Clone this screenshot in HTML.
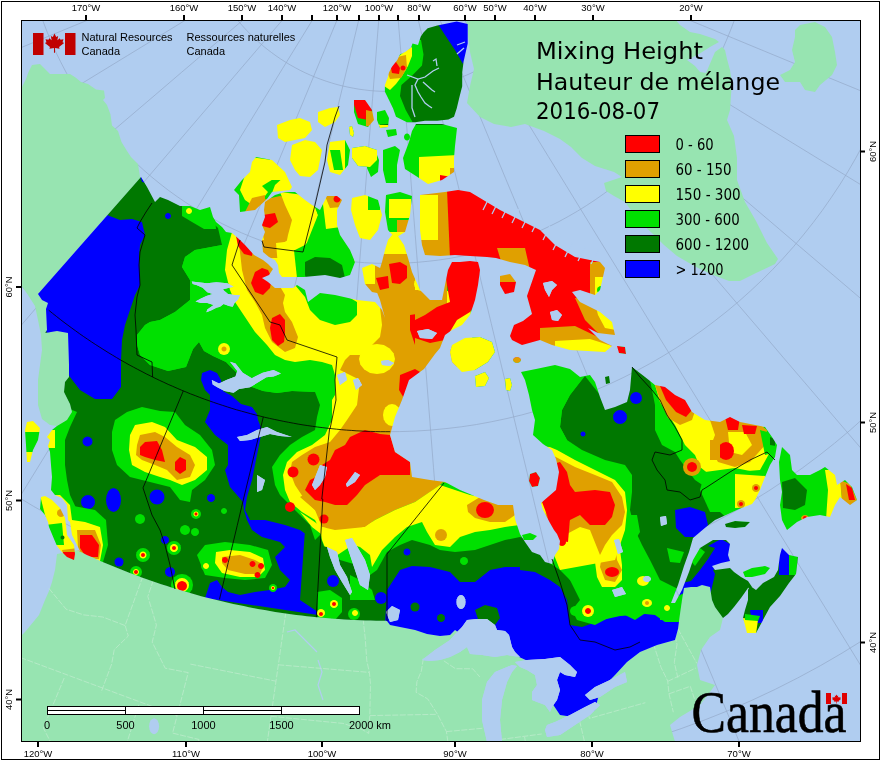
<!DOCTYPE html><html><head><meta charset="utf-8"><style>html,body{margin:0;padding:0;background:#fff}svg{display:block}</style></head><body>
<svg width="880" height="760" viewBox="0 0 880 760">
<defs><clipPath id="frame"><rect x="21" y="20" width="839" height="721"/></clipPath>
<clipPath id="can">
<path d="M141.0,177.0 L147.0,187.0 L155.0,202.0 L160.0,197.0 L168.0,200.0 L180.0,206.0 L190.0,206.0 L200.0,210.0 L210.0,207.0 L213.0,217.0 L216.0,222.0 L222.0,227.0 L226.0,232.0 L232.0,233.0 L240.0,240.0 L245.0,245.0 L254.0,255.0 L263.0,260.0 L268.0,264.0 L273.0,269.0 L269.0,275.0 L262.0,278.0 L268.0,282.0 L275.0,288.0 L282.0,288.0 L293.0,288.0 L297.0,285.0 L305.0,290.0 L308.0,302.0 L320.0,293.0 L335.0,295.0 L357.0,300.0 L375.0,302.0 L382.0,310.0 L385.0,318.0 L380.0,300.0 L376.0,290.0 L378.0,275.0 L382.0,262.0 L385.0,250.0 L388.0,240.0 L392.0,235.0 L398.0,236.0 L404.0,245.0 L408.0,258.0 L412.0,272.0 L420.0,290.0 L430.0,300.0 L442.0,300.0 L445.0,285.0 L448.0,270.0 L452.0,262.0 L460.0,262.0 L470.0,261.0 L478.0,262.0 L480.0,270.0 L478.0,285.0 L475.0,300.0 L470.0,315.0 L462.0,325.0 L452.0,330.0 L445.0,335.0 L440.0,348.0 L435.0,354.0 L424.0,369.0 L409.0,380.0 L402.0,400.0 L395.0,417.0 L390.0,435.0 L395.0,452.0 L410.0,462.0 L412.0,477.0 L430.0,480.0 L445.0,482.0 L460.0,490.0 L484.0,500.0 L498.0,505.0 L513.0,505.0 L515.0,519.0 L520.0,534.0 L525.0,542.0 L532.0,552.0 L540.0,555.0 L545.0,562.0 L552.0,564.0 L555.0,555.0 L559.0,549.0 L560.0,541.0 L557.0,534.0 L554.0,530.0 L550.0,523.0 L543.0,510.0 L541.0,503.0 L556.0,490.0 L559.0,472.0 L556.0,459.0 L552.0,450.0 L543.0,444.0 L533.0,435.0 L535.0,420.0 L532.0,410.0 L529.0,395.0 L525.0,380.0 L521.0,372.0 L536.0,369.0 L555.0,365.0 L570.0,369.0 L580.0,377.0 L590.0,375.0 L595.0,382.0 L600.0,397.0 L605.0,410.0 L615.0,407.0 L627.0,402.0 L630.0,390.0 L632.0,367.0 L645.0,377.0 L655.0,385.0 L665.0,387.0 L675.0,395.0 L685.0,400.0 L692.0,412.0 L705.0,420.0 L720.0,422.0 L730.0,417.0 L740.0,422.0 L755.0,425.0 L765.0,427.0 L772.0,437.0 L777.0,445.0 L775.0,457.0 L770.0,465.0 L765.0,477.0 L760.0,490.0 L755.0,500.0 L752.0,504.0 L739.0,509.0 L726.0,515.0 L715.0,520.0 L706.0,527.0 L693.0,538.0 L689.0,552.0 L684.0,566.0 L678.0,585.0 L671.0,603.0 L675.0,603.0 L682.0,590.0 L689.0,572.0 L693.0,560.0 L700.0,548.0 L713.0,540.0 L726.0,540.0 L730.0,544.0 L728.0,555.0 L730.0,561.0 L721.0,563.0 L712.0,566.0 L715.0,570.0 L730.0,568.0 L734.0,572.0 L741.0,577.0 L748.0,581.0 L752.0,587.0 L748.0,588.0 L741.0,598.0 L734.0,607.0 L728.0,614.0 L723.0,618.0 L723.0,618.0 L715.0,607.0 L712.0,600.0 L710.0,587.0 L702.0,585.0 L697.0,587.0 L691.0,587.0 L684.0,588.0 L682.0,600.0 L680.0,614.0 L678.0,629.0 L675.0,640.0 L657.0,645.0 L640.0,652.0 L627.0,662.0 L615.0,675.0 L600.0,690.0 L595.0,710.0 L580.0,718.0 L560.0,715.0 L550.0,700.0 L540.0,680.0 L530.0,662.0 L517.0,656.0 L510.0,650.0 L490.0,645.0 L470.0,640.0 L455.0,630.0 L450.0,635.0 L440.0,636.0 L427.0,634.0 L415.0,630.0 L400.0,627.0 L390.0,625.0 L386.8,620.8 L381.5,620.8 L376.1,620.7 L370.8,620.6 L365.5,620.4 L360.1,620.2 L354.8,620.0 L349.5,619.7 L344.1,619.4 L338.8,619.1 L333.5,618.7 L328.2,618.3 L322.8,617.8 L317.5,617.3 L312.2,616.8 L306.9,616.2 L301.6,615.6 L296.3,614.9 L291.0,614.2 L285.8,613.5 L280.5,612.7 L275.2,611.9 L269.9,611.0 L264.7,610.1 L259.4,609.2 L254.2,608.2 L248.9,607.2 L243.7,606.1 L238.5,605.1 L233.3,603.9 L228.0,602.8 L222.9,601.6 L217.7,600.3 L212.5,599.0 L207.3,597.7 L202.1,596.4 L197.0,595.0 L191.9,593.5 L186.7,592.1 L181.6,590.6 L176.5,589.0 L171.4,587.4 L166.3,585.8 L161.2,584.2 L156.2,582.5 L151.1,580.7 L146.1,579.0 L141.1,577.2 L136.1,575.3 L131.1,573.4 L126.1,571.5 L121.1,569.6 L116.2,567.6 L111.3,565.5 L106.3,563.5 L101.4,561.4 L96.5,559.2 L91.7,557.1 L86.8,554.9 L82.0,552.6 L77.1,550.3 L80.0,551.0 L77.0,545.0 L72.0,535.0 L70.0,522.0 L68.0,520.0 L67.0,505.0 L62.0,498.0 L55.0,495.0 L51.0,490.0 L52.0,477.0 L51.0,465.0 L50.0,452.0 L48.0,446.0 L50.0,440.0 L47.0,437.0 L52.0,430.0 L57.0,426.0 L67.0,420.0 L72.0,412.0 L70.0,404.0 L64.0,392.0 L65.0,382.0 L69.0,377.0 L69.0,365.0 L68.0,333.0 L57.0,331.0 L45.0,333.0 L47.0,330.0 L46.0,309.0 L48.0,303.0 L42.0,300.0 L38.0,294.0Z"/>
<path d="M41.0,497.0 L40.0,509.0 L45.0,515.0 L48.0,522.0 L49.0,527.0 L54.0,539.0 L57.0,546.0 L61.0,551.0 L67.0,557.0 L74.0,560.0 L75.0,554.0 L74.0,545.0 L67.0,535.0 L66.0,525.0 L65.0,518.0 L60.0,508.0 L52.0,500.0 L45.0,496.0Z"/>
<path d="M27.0,422.0 L33.0,421.0 L40.0,428.0 L38.0,440.0 L33.0,450.0 L30.0,462.0 L27.0,462.0 L26.0,445.0 L25.0,430.0Z"/>
<path d="M256.0,157.0 L272.0,160.0 L285.0,172.0 L292.0,187.0 L290.0,190.0 L272.0,192.0 L267.0,199.0 L255.0,210.0 L240.0,212.0 L239.0,195.0 L234.0,190.0 L242.0,180.0 L250.0,172.0 L252.0,162.0Z"/>
<path d="M265.0,202.0 L275.0,195.0 L285.0,192.0 L295.0,192.0 L305.0,200.0 L312.0,205.0 L320.0,210.0 L325.0,200.0 L327.0,196.0 L337.0,196.0 L342.0,200.0 L337.0,210.0 L337.0,225.0 L340.0,235.0 L350.0,250.0 L355.0,262.0 L350.0,275.0 L340.0,278.0 L325.0,275.0 L304.0,277.0 L290.0,277.0 L282.0,277.0 L279.0,273.0 L278.0,265.0 L275.0,260.0 L269.0,257.0 L263.0,252.0 L262.0,240.0 L265.0,232.0 L262.0,225.0 L265.0,217.0 L264.0,210.0Z"/>
<path d="M277.0,125.0 L290.0,120.0 L300.0,118.0 L310.0,122.0 L312.0,130.0 L305.0,138.0 L295.0,140.0 L285.0,142.0 L278.0,138.0Z"/>
<path d="M292.0,145.0 L305.0,140.0 L315.0,142.0 L322.0,150.0 L320.0,160.0 L318.0,170.0 L310.0,177.0 L300.0,176.0 L295.0,170.0 L290.0,160.0Z"/>
<path d="M318.0,112.0 L330.0,108.0 L338.0,107.0 L340.0,115.0 L335.0,122.0 L325.0,127.0 L318.0,122.0Z"/>
<path d="M354.0,100.0 L365.0,100.0 L372.0,110.0 L374.0,120.0 L368.0,127.0 L358.0,124.0 L354.0,112.0Z"/>
<path d="M330.0,142.0 L345.0,140.0 L350.0,150.0 L348.0,165.0 L340.0,175.0 L330.0,172.0 L327.0,160.0Z"/>
<path d="M367.0,152.0 L375.0,150.0 L379.0,160.0 L378.0,172.0 L371.0,177.0 L367.0,168.0Z"/>
<path d="M352.0,148.0 L365.0,146.0 L377.0,150.0 L377.0,160.0 L370.0,167.0 L358.0,166.0 L352.0,158.0Z"/>
<path d="M383.0,150.0 L395.0,146.0 L400.0,150.0 L397.0,165.0 L397.0,183.0 L386.0,183.0 L383.0,170.0Z"/>
<path d="M377.0,112.0 L385.0,110.0 L389.0,118.0 L388.0,127.0 L380.0,128.0 L377.0,120.0Z"/>
<path d="M386.0,130.0 L396.0,129.0 L397.0,135.0 L388.0,137.0Z"/>
<path d="M410.0,137.0 L409.8,138.3 L409.1,139.5 L408.1,140.2 L407.0,140.5 L405.9,140.2 L404.9,139.5 L404.2,138.3 L404.0,137.0 L404.2,135.7 L404.9,134.5 L405.9,133.8 L407.0,133.5 L408.1,133.8 L409.1,134.5 L409.8,135.7Z"/>
<path d="M349.0,127.0 L352.0,126.0 L354.0,133.0 L353.0,137.0 L350.0,135.0Z"/>
<path d="M416.0,124.0 L442.0,124.0 L457.0,128.0 L455.0,146.0 L454.0,158.0 L454.0,172.0 L442.0,180.0 L428.0,184.0 L416.0,176.0 L405.0,169.0 L403.0,158.0 L409.0,142.0 L412.0,131.0Z"/>
<path d="M427.7,28.3 L437.3,25.5 L456.7,21.4 L467.7,24.1 L467.7,43.5 L463.6,61.4 L462.2,72.5 L462.2,86.3 L459.4,97.3 L456.7,108.4 L454.0,116.7 L448.4,119.4 L437.3,120.8 L425.0,120.8 L415.2,122.2 L407.0,122.2 L396.0,116.7 L393.1,108.4 L389.0,100.1 L384.9,91.8 L384.9,84.9 L387.6,78.0 L389.0,72.5 L391.8,67.0 L397.3,60.1 L400.0,54.5 L405.6,51.8 L411.1,47.6 L412.5,43.5 L418.0,44.9 L420.8,36.6 L423.5,32.4Z"/>
<path d="M352.0,198.0 L365.0,195.0 L378.0,200.0 L382.0,215.0 L378.0,230.0 L370.0,240.0 L360.0,238.0 L355.0,225.0 L351.0,210.0Z"/>
<path d="M386.0,195.0 L400.0,192.0 L412.0,196.0 L410.0,215.0 L405.0,232.0 L395.0,238.0 L388.0,230.0 L385.0,212.0Z"/>
<path d="M420.0,195.0 L445.0,192.0 L458.0,190.0 L470.0,192.0 L480.0,198.0 L500.0,210.0 L520.0,220.0 L540.0,230.0 L555.0,245.0 L575.0,257.0 L600.0,262.0 L605.0,268.0 L600.0,290.0 L595.0,295.0 L580.0,290.0 L572.0,292.0 L580.0,302.0 L600.0,312.0 L612.0,322.0 L615.0,335.0 L598.0,333.0 L588.0,328.0 L600.0,340.0 L612.0,346.0 L605.0,352.0 L570.0,350.0 L552.0,345.0 L540.0,340.0 L522.0,345.0 L512.0,340.0 L510.0,336.0 L514.0,325.0 L523.0,321.0 L532.0,314.0 L527.0,296.0 L536.0,270.0 L525.0,265.0 L510.0,262.0 L496.0,258.0 L487.0,257.0 L470.0,256.0 L455.0,255.0 L440.0,256.0 L425.0,255.0 L422.0,245.0 L420.0,230.0 L420.0,210.0Z"/>
<path d="M452.0,345.0 L465.0,338.0 L480.0,337.0 L492.0,342.0 L495.0,352.0 L488.0,362.0 L475.0,370.0 L462.0,372.0 L452.0,362.0 L450.0,352.0Z"/>
<path d="M475.0,376.0 L485.0,372.0 L489.0,378.0 L485.0,386.0 L476.0,387.0Z"/>
<path d="M505.0,379.0 L510.0,378.0 L512.0,385.0 L510.0,391.0 L506.0,390.0Z"/>
<path d="M500.0,276.0 L510.0,274.0 L516.0,282.0 L514.0,292.0 L505.0,294.0 L500.0,285.0Z"/>
<path d="M362.0,268.0 L372.0,264.0 L380.0,268.0 L388.0,276.0 L389.0,288.0 L382.0,294.0 L372.0,292.0 L365.0,284.0Z"/>
<path d="M521.0,360.0 L520.7,361.1 L519.8,362.1 L518.5,362.8 L517.0,363.0 L515.5,362.8 L514.2,362.1 L513.3,361.1 L513.0,360.0 L513.3,358.9 L514.2,357.9 L515.5,357.2 L517.0,357.0 L518.5,357.2 L519.8,357.9 L520.7,358.9Z"/>
<path d="M617.0,346.0 L625.0,347.0 L626.0,354.0 L619.0,353.0Z"/>
<path d="M605.0,377.0 L609.0,376.0 L610.0,383.0 L606.0,384.0Z"/>
<path d="M522.0,535.0 L530.0,533.0 L537.0,536.0 L533.0,540.0 L524.0,540.0Z"/>
<path d="M530.0,474.0 L536.0,472.0 L540.0,478.0 L538.0,486.0 L532.0,487.0 L529.0,481.0Z"/>
<path d="M782.0,447.0 L790.0,455.0 L792.0,470.0 L797.0,475.0 L810.0,475.0 L820.0,470.0 L825.0,467.0 L835.0,475.0 L837.0,485.0 L845.0,480.0 L852.0,487.0 L857.0,500.0 L850.0,505.0 L840.0,497.0 L835.0,505.0 L830.0,517.0 L820.0,515.0 L807.0,517.0 L797.0,522.0 L787.0,530.0 L782.0,520.0 L780.0,505.0 L782.0,492.0 L780.0,480.0 L779.0,462.0Z"/>
<path d="M725.0,524.0 L735.0,521.0 L750.0,522.0 L745.0,527.0 L735.0,528.0 L726.0,527.0Z"/>
<path d="M743.0,572.0 L752.0,568.0 L765.0,566.0 L770.0,568.0 L765.0,574.0 L752.0,577.0 L745.0,577.0Z"/>
<path d="M745.0,625.0 L747.0,633.0 L756.0,633.0 L763.0,620.0 L770.0,607.0 L780.0,596.0 L789.0,583.0 L796.0,574.0 L798.0,557.0 L789.0,555.0 L782.0,548.0 L780.0,555.0 L778.0,570.0 L774.0,577.0 L763.0,583.0 L756.0,590.0 L750.0,586.0 L748.0,590.0 L748.0,600.0 L745.0,610.0 L743.0,618.0Z"/>
</clipPath>
<mask id="wat" maskUnits="userSpaceOnUse" x="0" y="0" width="880" height="760"><rect x="0" y="0" width="880" height="760" fill="#fff"/>
<path d="M543.0,283.0 L552.0,281.0 L557.0,285.0 L552.0,290.0 L549.0,297.0 L545.0,290.0Z" fill="#000"/>
<path d="M550.0,312.0 L557.0,310.0 L562.0,315.0 L558.0,321.0 L552.0,320.0Z" fill="#000"/>
<path d="M381.0,361.0 L388.0,360.0 L394.0,363.0 L390.0,366.0 L382.0,365.0Z" fill="#000"/>
<path d="M337.0,375.0 L345.0,372.0 L347.0,380.0 L340.0,385.0Z" fill="#000"/>
<path d="M353.0,380.0 L358.0,378.0 L362.0,385.0 L356.0,390.0Z" fill="#000"/>
<path d="M327.0,547.0 L337.0,552.0 L340.0,565.0 L347.0,577.0 L352.0,592.0 L350.0,595.0 L342.0,582.0 L335.0,570.0 L330.0,557.0Z" fill="#000"/>
<path d="M386.0,612.0 L392.0,606.0 L400.0,610.0 L398.0,620.0 L390.0,622.0Z" fill="#000"/>
<path d="M465.5,602.0 L465.2,604.7 L464.2,606.9 L462.7,608.5 L461.0,609.0 L459.3,608.5 L457.8,606.9 L456.8,604.7 L456.5,602.0 L456.8,599.3 L457.8,597.1 L459.3,595.5 L461.0,595.0 L462.7,595.5 L464.2,597.1 L465.2,599.3Z" fill="#000"/>
<path d="M614.0,540.0 L619.0,539.0 L623.0,552.0 L618.0,554.0Z" fill="#000"/>
<path d="M612.0,590.0 L622.0,587.0 L626.0,594.0 L615.0,597.0Z" fill="#000"/>
<path d="M660.0,517.0 L666.0,516.0 L667.0,524.0 L661.0,526.0Z" fill="#000"/>
<path d="M651.0,579.0 L650.7,580.1 L649.8,581.1 L648.5,581.8 L647.0,582.0 L645.5,581.8 L644.2,581.1 L643.3,580.1 L643.0,579.0 L643.3,577.9 L644.2,576.9 L645.5,576.2 L647.0,576.0 L648.5,576.2 L649.8,576.9 L650.7,577.9Z" fill="#000"/>
<path d="M320.0,465.0 L327.0,467.0 L325.0,477.0 L320.0,485.0 L315.0,490.0 L312.0,485.0 L316.0,475.0Z" fill="#000"/>
<path d="M355.0,472.0 L360.0,475.0 L355.0,482.0 L347.0,487.0 L346.0,484.0Z" fill="#000"/>
<path d="M257.0,475.0 L265.0,480.0 L262.0,490.0 L257.0,492.0Z" fill="#000"/>
<path d="M417.0,331.0 L428.0,329.0 L437.0,333.0 L432.0,339.0 L420.0,338.0Z" fill="#000"/>
<path d="M191.8,281.4 L198.0,282.3 L207.0,283.2 L216.4,282.3 L227.3,283.2 L233.6,286.8 L229.0,287.7 L222.7,289.5 L228.0,294.0 L234.5,295.0 L240.0,295.0 L238.0,299.5 L234.5,303.0 L232.7,306.8 L229.0,306.0 L223.6,304.0 L220.0,306.8 L216.4,307.7 L211.0,310.5 L206.4,312.3 L207.3,309.5 L213.6,305.0 L207.3,303.0 L201.0,303.0 L195.5,301.4 L201.0,298.6 L206.4,296.0 L212.7,294.0 L207.3,292.3 L202.7,287.7 L196.4,285.0 L192.7,284.0Z" fill="#000"/>
<path d="M211.8,380.0 L219.0,383.6 L226.4,380.0 L235.5,376.4 L237.3,371.0 L230.0,361.8 L235.5,363.6 L242.7,372.7 L251.8,378.2 L262.7,372.7 L273.6,370.0 L281.0,373.6 L273.6,376.4 L266.4,377.3 L259.0,381.8 L250.0,387.3 L239.0,389.0 L233.6,392.7 L224.5,391.0 L217.3,387.3 L212.7,384.5Z" fill="#000"/>
<path d="M237.0,437.0 L247.0,435.0 L257.0,430.0 L267.0,427.0 L277.0,432.0 L292.0,437.0 L280.0,436.0 L270.0,434.0 L260.0,437.0 L250.0,440.0 L240.0,441.0Z" fill="#000"/>
<path d="M345.0,540.0 L352.0,538.0 L358.0,548.0 L365.0,560.0 L370.0,575.0 L368.0,590.0 L360.0,585.0 L355.0,570.0 L350.0,555.0Z" fill="#000"/>
<path d="M422.0,660.0 L435.0,650.0 L450.0,640.0 L457.0,632.0 L462.0,627.0 L467.0,620.0 L477.0,619.0 L487.0,619.0 L495.0,625.0 L497.0,630.0 L505.0,631.0 L509.0,635.0 L512.0,647.0 L515.0,652.0 L520.0,657.0 L507.0,655.0 L495.0,657.0 L482.0,655.0 L470.0,654.0 L467.0,647.0 L460.0,652.0 L450.0,657.0 L440.0,660.0 L430.0,661.0Z" fill="#000"/>
<path d="M512.0,665.0 L495.0,672.0 L487.0,682.0 L482.0,700.0 L482.0,720.0 L487.0,742.0 L502.0,742.0 L500.0,720.0 L502.0,700.0 L507.0,682.0 L512.0,672.0 L517.0,666.0Z" fill="#000"/>
<path d="M515.0,662.0 L527.0,660.0 L545.0,659.0 L560.0,657.0 L570.0,665.0 L577.0,672.0 L575.0,677.0 L565.0,675.0 L560.0,672.0 L557.0,680.0 L560.0,690.0 L557.0,700.0 L552.0,707.0 L550.0,712.0 L545.0,705.0 L537.0,702.0 L532.0,700.0 L532.0,692.0 L537.0,685.0 L535.0,675.0 L527.0,670.0 L520.0,667.0Z" fill="#000"/>
<path d="M547.0,725.0 L555.0,722.0 L570.0,715.0 L585.0,707.0 L595.0,702.0 L600.0,705.0 L590.0,715.0 L575.0,725.0 L560.0,735.0 L547.0,737.0 L545.0,730.0Z" fill="#000"/>
<path d="M585.0,695.0 L595.0,687.0 L610.0,680.0 L625.0,672.0 L627.0,682.0 L615.0,687.0 L600.0,697.0 L590.0,700.0Z" fill="#000"/>
</mask></defs>
<rect x="0" y="0" width="880" height="760" fill="#fff"/>
<g clip-path="url(#frame)">
<rect x="21" y="20" width="839" height="721" fill="#b0cdf0"/>
<path d="M-652.2,144.2 L-615.0,135.3 L-578.4,126.6 L-542.3,118.0 L-506.6,109.5 L-471.5,101.1 L-436.7,92.8 L-402.3,84.6 L-368.2,76.5 L-334.5,68.4 L-301.0,60.5 L-267.8,52.5 L-234.8,44.7 L-202.0,36.8 L-169.3,29.0 L-136.7,21.3 L-104.2,13.5 L-71.8,5.8 L-39.4,-1.9 L-6.9,-9.7 L25.6,-17.4 L58.2,-25.2 L91.0,-33.1 L124.1,-40.9 L157.5,-48.9 L191.2,-57.0 L225.6,-65.1 L260.6,-73.5 L296.7,-82.1 L334.4,-91.1 L375.7,-101.0 M-600.5,304.1 L-565.1,289.5 L-530.3,275.2 L-496.0,261.0 L-462.2,247.1 L-428.7,233.3 L-395.7,219.6 L-363.0,206.1 L-330.6,192.8 L-298.6,179.5 L-266.8,166.4 L-235.2,153.4 L-203.8,140.4 L-172.6,127.6 L-141.6,114.7 L-110.6,102.0 L-79.8,89.2 L-48.9,76.5 L-18.1,63.8 L12.7,51.1 L43.6,38.3 L74.6,25.5 L105.8,12.7 L137.2,-0.3 L168.9,-13.4 L201.1,-26.6 L233.7,-40.1 L267.0,-53.8 L301.3,-68.0 L337.1,-82.8 L376.4,-99.0 M-524.4,454.0 L-491.7,434.0 L-459.6,414.4 L-427.9,395.0 L-396.7,375.9 L-365.8,357.1 L-335.3,338.4 L-305.2,320.0 L-275.3,301.7 L-245.7,283.6 L-216.3,265.7 L-187.2,247.9 L-158.2,230.2 L-129.4,212.6 L-100.8,195.1 L-72.2,177.6 L-43.7,160.2 L-15.3,142.8 L13.2,125.4 L41.6,108.0 L70.2,90.6 L98.8,73.1 L127.6,55.5 L156.6,37.8 L185.8,19.9 L215.5,1.8 L245.6,-16.6 L276.3,-35.4 L308.0,-54.8 L341.1,-75.0 L377.3,-97.2 M-425.7,590.0 L-396.6,565.2 L-368.0,540.8 L-339.7,516.7 L-311.8,493.0 L-284.3,469.5 L-257.1,446.3 L-230.2,423.4 L-203.6,400.7 L-177.2,378.2 L-151.0,355.9 L-125.0,333.7 L-99.1,311.7 L-73.5,289.8 L-47.9,268.0 L-22.4,246.3 L3.0,224.6 L28.4,203.0 L53.7,181.4 L79.1,159.7 L104.6,138.0 L130.1,116.3 L155.8,94.4 L181.6,72.3 L207.7,50.1 L234.2,27.5 L261.0,4.7 L288.5,-18.7 L316.7,-42.8 L346.2,-67.9 L378.5,-95.5 M-307.0,709.0 L-282.1,679.9 L-257.6,651.3 L-233.5,623.1 L-209.7,595.3 L-186.2,567.8 L-163.0,540.6 L-140.0,513.8 L-117.2,487.2 L-94.7,460.8 L-72.3,434.7 L-50.1,408.7 L-28.0,382.9 L-6.1,357.3 L15.7,331.7 L37.5,306.3 L59.2,280.9 L80.9,255.6 L102.6,230.3 L124.2,204.9 L146.0,179.5 L167.8,154.0 L189.7,128.4 L211.8,102.6 L234.1,76.5 L256.7,50.1 L279.6,23.3 L303.0,-4.1 L327.2,-32.3 L352.4,-61.8 L380.0,-94.0 M-171.1,807.9 L-151.1,775.3 L-131.4,743.2 L-112.0,711.6 L-92.8,680.3 L-73.9,649.5 L-55.2,619.1 L-36.7,588.9 L-18.4,559.1 L-0.2,529.5 L17.7,500.2 L35.6,471.1 L53.4,442.1 L71.0,413.4 L88.6,384.7 L106.1,356.2 L123.6,327.8 L141.0,299.3 L158.4,270.9 L175.9,242.5 L193.4,214.0 L210.9,185.4 L228.6,156.6 L246.3,127.7 L264.3,98.4 L282.4,68.8 L300.9,38.8 L319.7,8.0 L339.1,-23.6 L359.4,-56.6 L381.6,-92.8 M-21.4,884.3 L-6.7,848.9 L7.7,814.2 L21.9,779.9 L36.0,746.0 L49.8,712.6 L63.5,679.6 L77.1,647.0 L90.5,614.6 L103.8,582.6 L116.9,550.8 L130.0,519.2 L143.0,487.9 L156.0,456.7 L168.8,425.7 L181.7,394.8 L194.4,363.9 L207.2,333.1 L220.0,302.3 L232.8,271.5 L245.6,240.6 L258.4,209.6 L271.4,178.5 L284.4,147.1 L297.5,115.4 L310.8,83.3 L324.3,50.7 L338.1,17.4 L352.3,-16.8 L367.2,-52.7 L383.5,-91.9 M138.5,936.3 L147.4,899.1 L156.2,862.5 L164.9,826.4 L173.4,790.8 L181.9,755.6 L190.2,720.8 L198.5,686.5 L206.7,652.4 L214.8,618.7 L222.8,585.2 L230.8,552.0 L238.8,519.0 L246.6,486.2 L254.5,453.5 L262.3,421.0 L270.1,388.5 L277.9,356.1 L285.7,323.7 L293.5,291.3 L301.3,258.8 L309.2,226.1 L317.0,193.3 L325.0,160.3 L333.0,126.9 L341.1,93.2 L349.4,58.9 L357.8,23.8 L366.4,-12.2 L375.5,-50.0 L385.4,-91.2 M304.5,962.6 L307.5,924.5 L310.4,886.9 L313.3,849.9 L316.2,813.4 L319.1,777.4 L321.9,741.7 L324.6,706.5 L327.4,671.6 L330.1,637.0 L332.8,602.7 L335.5,568.6 L338.2,534.8 L340.8,501.1 L343.5,467.7 L346.1,434.3 L348.7,401.0 L351.3,367.8 L353.9,334.5 L356.6,301.3 L359.2,267.9 L361.8,234.5 L364.5,200.9 L367.1,167.0 L369.8,132.8 L372.6,98.2 L375.3,63.0 L378.2,27.1 L381.1,-9.9 L384.1,-48.6 L387.5,-90.9 M472.5,962.6 L469.5,924.5 L466.6,886.9 L463.7,849.9 L460.8,813.4 L457.9,777.4 L455.1,741.7 L452.4,706.5 L449.6,671.6 L446.9,637.0 L444.2,602.7 L441.5,568.6 L438.8,534.8 L436.2,501.1 L433.5,467.7 L430.9,434.3 L428.3,401.0 L425.7,367.8 L423.1,334.5 L420.4,301.3 L417.8,267.9 L415.2,234.5 L412.5,200.9 L409.9,167.0 L407.2,132.8 L404.4,98.2 L401.7,63.0 L398.8,27.1 L395.9,-9.9 L392.9,-48.6 L389.5,-90.9 M638.5,936.3 L629.6,899.1 L620.8,862.5 L612.1,826.4 L603.6,790.8 L595.1,755.6 L586.8,720.8 L578.5,686.5 L570.3,652.4 L562.2,618.7 L554.2,585.2 L546.2,552.0 L538.2,519.0 L530.4,486.2 L522.5,453.5 L514.7,421.0 L506.9,388.5 L499.1,356.1 L491.3,323.7 L483.5,291.3 L475.7,258.8 L467.8,226.1 L460.0,193.3 L452.0,160.3 L444.0,126.9 L435.9,93.2 L427.6,58.9 L419.2,23.8 L410.6,-12.2 L401.5,-50.0 L391.6,-91.2 M798.4,884.3 L783.7,848.9 L769.3,814.2 L755.1,779.9 L741.0,746.0 L727.2,712.6 L713.5,679.6 L699.9,647.0 L686.5,614.6 L673.2,582.6 L660.1,550.8 L647.0,519.2 L634.0,487.9 L621.0,456.7 L608.2,425.7 L595.3,394.8 L582.6,363.9 L569.8,333.1 L557.0,302.3 L544.2,271.5 L531.4,240.6 L518.6,209.6 L505.6,178.5 L492.6,147.1 L479.5,115.4 L466.2,83.3 L452.7,50.7 L438.9,17.4 L424.7,-16.8 L409.8,-52.7 L393.5,-91.9 M948.1,807.9 L928.1,775.3 L908.4,743.2 L889.0,711.6 L869.8,680.3 L850.9,649.5 L832.2,619.1 L813.7,588.9 L795.4,559.1 L777.2,529.5 L759.3,500.2 L741.4,471.1 L723.6,442.1 L706.0,413.4 L688.4,384.7 L670.9,356.2 L653.4,327.8 L636.0,299.3 L618.6,270.9 L601.1,242.5 L583.6,214.0 L566.1,185.4 L548.4,156.6 L530.7,127.7 L512.7,98.4 L494.6,68.8 L476.1,38.8 L457.3,8.0 L437.9,-23.6 L417.6,-56.6 L395.4,-92.8 M1084.0,709.0 L1059.1,679.9 L1034.6,651.3 L1010.5,623.1 L986.7,595.3 L963.2,567.8 L940.0,540.6 L917.0,513.8 L894.2,487.2 L871.7,460.8 L849.3,434.7 L827.1,408.7 L805.0,382.9 L783.1,357.3 L761.3,331.7 L739.5,306.3 L717.8,280.9 L696.1,255.6 L674.4,230.3 L652.8,204.9 L631.0,179.5 L609.2,154.0 L587.3,128.4 L565.2,102.6 L542.9,76.5 L520.3,50.1 L497.4,23.3 L474.0,-4.1 L449.8,-32.3 L424.6,-61.8 L397.0,-94.0 M1202.7,590.0 L1173.6,565.2 L1145.0,540.8 L1116.7,516.7 L1088.8,493.0 L1061.3,469.5 L1034.1,446.3 L1007.2,423.4 L980.6,400.7 L954.2,378.2 L928.0,355.9 L902.0,333.7 L876.1,311.7 L850.5,289.8 L824.9,268.0 L799.4,246.3 L774.0,224.6 L748.6,203.0 L723.3,181.4 L697.9,159.7 L672.4,138.0 L646.9,116.3 L621.2,94.4 L595.4,72.3 L569.3,50.1 L542.8,27.5 L516.0,4.7 L488.5,-18.7 L460.3,-42.8 L430.8,-67.9 L398.5,-95.5 M1301.4,454.0 L1268.7,434.0 L1236.6,414.4 L1204.9,395.0 L1173.7,375.9 L1142.8,357.1 L1112.3,338.4 L1082.2,320.0 L1052.3,301.7 L1022.7,283.6 L993.3,265.7 L964.2,247.9 L935.2,230.2 L906.4,212.6 L877.8,195.1 L849.2,177.6 L820.7,160.2 L792.3,142.8 L763.8,125.4 L735.4,108.0 L706.8,90.6 L678.2,73.1 L649.4,55.5 L620.4,37.8 L591.2,19.9 L561.5,1.8 L531.4,-16.6 L500.7,-35.4 L469.0,-54.8 L435.9,-75.0 L399.7,-97.2 M1377.5,304.1 L1342.1,289.5 L1307.3,275.2 L1273.0,261.0 L1239.2,247.1 L1205.7,233.3 L1172.7,219.6 L1140.0,206.1 L1107.6,192.8 L1075.6,179.5 L1043.8,166.4 L1012.2,153.4 L980.8,140.4 L949.6,127.6 L918.6,114.7 L887.6,102.0 L856.8,89.2 L825.9,76.5 L795.1,63.8 L764.3,51.1 L733.4,38.3 L702.4,25.5 L671.2,12.7 L639.8,-0.3 L608.1,-13.4 L575.9,-26.6 L543.3,-40.1 L510.0,-53.8 L475.7,-68.0 L439.9,-82.8 L400.6,-99.0 M1429.2,144.2 L1392.0,135.3 L1355.4,126.6 L1319.3,118.0 L1283.6,109.5 L1248.5,101.1 L1213.7,92.8 L1179.3,84.6 L1145.2,76.5 L1111.5,68.4 L1078.0,60.5 L1044.8,52.5 L1011.8,44.7 L979.0,36.8 L946.3,29.0 L913.7,21.3 L881.2,13.5 L848.8,5.8 L816.4,-1.9 L783.9,-9.7 L751.4,-17.4 L718.8,-25.2 L686.0,-33.1 L652.9,-40.9 L619.5,-48.9 L585.8,-57.0 L551.4,-65.1 L516.4,-73.5 L480.3,-82.1 L442.6,-91.1 L401.3,-101.0 M1455.2,-21.8 L1417.1,-24.8 L1379.6,-27.7 L1342.5,-30.5 L1306.0,-33.3 L1270.0,-36.1 L1234.3,-38.8 L1199.1,-41.6 L1164.2,-44.2 L1129.6,-46.9 L1095.3,-49.6 L1061.2,-52.2 L1027.4,-54.8 L993.7,-57.4 L960.2,-60.0 L926.9,-62.5 L893.6,-65.1 L860.3,-67.7 L827.1,-70.2 L793.8,-72.8 L760.5,-75.3 L727.0,-77.9 L693.4,-80.5 L659.5,-83.1 L625.3,-85.8 L590.7,-88.4 L555.5,-91.1 L519.6,-93.9 L482.6,-96.8 L443.9,-99.7 L401.6,-103.0 M-491.2,-174.9 L-492.9,-149.5 L-493.8,-124.0 L-494.1,-98.6 L-493.5,-73.2 L-492.3,-47.8 L-490.3,-22.4 L-487.6,2.9 L-484.1,28.1 L-480.0,53.2 L-475.1,78.2 L-469.5,103.0 L-463.1,127.7 L-456.1,152.1 L-448.4,176.3 L-439.9,200.4 L-430.8,224.1 L-421.0,247.6 L-410.5,270.8 L-399.4,293.7 L-387.6,316.2 L-375.2,338.4 L-362.1,360.2 L-348.4,381.7 L-334.1,402.7 L-319.2,423.3 L-303.7,443.5 L-287.6,463.2 L-271.0,482.5 L-253.8,501.3 L-236.1,519.5 L-217.9,537.3 L-199.1,554.5 L-179.9,571.2 L-160.2,587.3 L-140.1,602.8 L-119.5,617.7 L-98.5,632.1 L-77.0,645.8 L-55.2,658.9 L-33.1,671.4 L-10.5,683.2 L12.3,694.4 L35.5,704.9 L59.0,714.7 L82.7,723.9 L106.7,732.4 L130.9,740.1 L155.4,747.2 L180.0,753.6 L204.8,759.2 L229.8,764.2 L254.9,768.4 L280.1,771.9 L305.4,774.6 L330.7,776.7 L356.1,778.0 L381.6,778.5 L407.0,778.4 L432.4,777.5 L457.8,775.8 L483.2,773.5 L508.4,770.4 L533.6,766.6 L558.6,762.0 L583.5,756.8 L608.2,750.8 L632.8,744.1 L657.1,736.7 L681.2,728.6 L705.1,719.8 L728.7,710.4 L752.1,700.2 L775.1,689.4 L797.8,677.9 L820.2,665.8 L842.2,653.0 L863.8,639.6 L885.1,625.6 L905.9,611.0 L926.3,595.8 L946.2,580.0 L965.7,563.6 L984.7,546.7 L1003.2,529.3 L1021.2,511.3 L1038.7,492.8 L1055.6,473.8 L1072.0,454.3 L1087.8,434.4 L1103.1,414.0 L1117.7,393.2 L1131.7,372.0 L1145.1,350.4 L1157.9,328.4 L1170.1,306.0 L1181.6,283.3 L1192.4,260.3 L1202.6,237.0 L1212.0,213.3 L1220.9,189.5 L1229.0,165.4 L1236.4,141.0 L1243.1,116.5 L1249.1,91.7 L1254.4,66.9 L1258.9,41.8 L1262.8,16.7 L1265.9,-8.6 L1268.3,-33.9 L1269.9,-59.3 L1270.9,-84.7 L1271.1,-110.2 L1270.5,-135.6 L1269.2,-161.0 L1267.2,-186.4 L1264.5,-211.7 L1261.0,-236.9 L1256.8,-262.0 L1251.9,-286.9 L1246.3,-311.8 M-315.2,-160.7 L-316.6,-140.4 L-317.3,-120.0 L-317.5,-99.7 L-317.1,-79.3 L-316.1,-59.0 L-314.5,-38.7 L-312.3,-18.5 L-309.5,1.7 L-306.2,21.8 L-302.3,41.7 L-297.8,61.6 L-292.7,81.3 L-287.1,100.9 L-280.9,120.3 L-274.2,139.5 L-266.9,158.5 L-259.1,177.2 L-250.7,195.8 L-241.8,214.1 L-232.3,232.1 L-222.4,249.9 L-211.9,267.3 L-201.0,284.5 L-189.5,301.3 L-177.6,317.8 L-165.2,334.0 L-152.4,349.7 L-139.1,365.2 L-125.3,380.2 L-111.1,394.8 L-96.6,409.0 L-81.6,422.7 L-66.2,436.1 L-50.4,449.0 L-34.3,461.4 L-17.8,473.3 L-1.0,484.8 L16.1,495.8 L33.5,506.3 L51.3,516.2 L69.3,525.7 L87.6,534.7 L106.1,543.1 L124.9,550.9 L143.9,558.3 L163.1,565.0 L182.5,571.3 L202.0,576.9 L221.7,582.0 L241.6,586.5 L261.5,590.5 L281.6,593.8 L301.8,596.6 L322.0,598.8 L342.3,600.5 L362.6,601.5 L382.9,602.0 L403.3,601.8 L423.6,601.1 L444.0,599.8 L464.2,597.9 L484.4,595.4 L504.5,592.4 L524.6,588.8 L544.5,584.5 L564.3,579.8 L583.9,574.4 L603.4,568.5 L622.7,562.0 L641.8,555.0 L660.7,547.4 L679.3,539.3 L697.8,530.7 L715.9,521.5 L733.8,511.8 L751.4,501.6 L768.7,490.9 L785.7,479.6 L802.4,468.0 L818.7,455.8 L834.6,443.2 L850.2,430.1 L865.4,416.5 L880.2,402.6 L894.6,388.2 L908.6,373.4 L922.2,358.2 L935.3,342.6 L947.9,326.7 L960.1,310.4 L971.8,293.7 L983.0,276.7 L993.7,259.4 L1004.0,241.8 L1013.7,224.0 L1022.9,205.8 L1031.5,187.4 L1039.7,168.7 L1047.3,149.8 L1054.3,130.8 L1060.8,111.5 L1066.7,92.0 L1072.1,72.4 L1076.9,52.6 L1081.1,32.7 L1084.8,12.7 L1087.9,-7.5 L1090.3,-27.7 L1092.3,-47.9 L1093.6,-68.2 L1094.3,-88.6 L1094.5,-108.9 L1094.0,-129.3 L1093.0,-149.6 L1091.4,-169.9 L1089.2,-190.1 L1086.4,-210.3 L1083.1,-230.4 L1079.2,-250.3 L1074.6,-270.2 M-145.5,-147.0 L-146.5,-131.6 L-147.1,-116.2 L-147.2,-100.7 L-146.9,-85.3 L-146.1,-69.9 L-144.9,-54.5 L-143.3,-39.1 L-141.2,-23.8 L-138.7,-8.6 L-135.7,6.6 L-132.3,21.7 L-128.5,36.6 L-124.2,51.5 L-119.5,66.2 L-114.4,80.7 L-108.8,95.2 L-102.9,109.4 L-96.5,123.5 L-89.8,137.4 L-82.6,151.1 L-75.1,164.5 L-67.1,177.8 L-58.8,190.8 L-50.1,203.6 L-41.1,216.1 L-31.7,228.4 L-21.9,240.3 L-11.8,252.0 L-1.4,263.4 L9.3,274.5 L20.4,285.3 L31.8,295.7 L43.5,305.8 L55.4,315.6 L67.6,325.0 L80.1,334.1 L92.9,342.8 L105.9,351.1 L119.1,359.1 L132.6,366.7 L146.3,373.9 L160.2,380.6 L174.2,387.0 L188.5,393.0 L202.9,398.6 L217.4,403.7 L232.1,408.4 L247.0,412.7 L261.9,416.6 L277.0,420.0 L292.1,423.0 L307.4,425.6 L322.7,427.7 L338.0,429.4 L353.4,430.6 L368.8,431.4 L384.3,431.7 L399.7,431.6 L415.2,431.1 L430.6,430.1 L446.0,428.6 L461.3,426.8 L476.6,424.5 L491.8,421.7 L506.9,418.5 L521.9,414.9 L536.8,410.8 L551.6,406.3 L566.2,401.4 L580.7,396.1 L595.0,390.3 L609.2,384.2 L623.2,377.6 L637.0,370.6 L650.5,363.3 L663.9,355.5 L677.0,347.4 L689.9,338.9 L702.6,330.0 L714.9,320.8 L727.1,311.2 L738.9,301.3 L750.4,291.0 L761.7,280.4 L772.6,269.5 L783.2,258.3 L793.5,246.7 L803.4,234.9 L813.0,222.8 L822.3,210.4 L831.1,197.8 L839.7,184.9 L847.8,171.8 L855.6,158.4 L862.9,144.9 L869.9,131.1 L876.5,117.1 L882.6,103.0 L888.4,88.6 L893.8,74.1 L898.7,59.5 L903.2,44.7 L907.3,29.8 L910.9,14.8 L914.1,-0.3 L916.9,-15.5 L919.2,-30.7 L921.1,-46.1 L922.5,-61.5 L923.6,-76.9 L924.1,-92.3 L924.2,-107.7 L923.9,-123.2 L923.1,-138.6 L921.9,-154.0 L920.2,-169.4 L918.1,-184.7 L915.6,-199.9 L912.6,-215.0 L909.2,-230.1 M22.2,-133.5 L21.5,-122.9 L21.1,-112.3 L21.0,-101.8 L21.3,-91.2 L21.8,-80.6 L22.6,-70.0 L23.7,-59.5 L25.2,-49.0 L26.9,-38.5 L29.0,-28.1 L31.3,-17.8 L33.9,-7.6 L36.9,2.6 L40.1,12.7 L43.6,22.7 L47.4,32.6 L51.5,42.4 L55.8,52.0 L60.5,61.6 L65.4,71.0 L70.5,80.2 L76.0,89.3 L81.7,98.2 L87.6,107.0 L93.8,115.6 L100.3,124.0 L107.0,132.2 L113.9,140.2 L121.1,148.0 L128.4,155.6 L136.0,163.0 L143.8,170.2 L151.8,177.1 L160.0,183.8 L168.4,190.3 L177.0,196.5 L185.8,202.5 L194.7,208.2 L203.8,213.6 L213.0,218.8 L222.4,223.8 L231.9,228.4 L241.5,232.8 L251.3,236.9 L261.2,240.7 L271.2,244.2 L281.3,247.5 L291.4,250.4 L301.7,253.1 L312.0,255.4 L322.4,257.5 L332.9,259.2 L343.3,260.7 L353.9,261.8 L364.4,262.7 L375.0,263.2 L385.6,263.4 L396.2,263.4 L406.8,263.0 L417.4,262.3 L427.9,261.3 L438.4,260.1 L448.9,258.5 L459.3,256.6 L469.7,254.4 L480.0,251.9 L490.2,249.1 L500.3,246.0 L510.4,242.7 L520.3,239.0 L530.2,235.1 L539.9,230.8 L549.5,226.3 L558.9,221.6 L568.2,216.5 L577.4,211.2 L586.4,205.6 L595.2,199.8 L603.9,193.7 L612.4,187.4 L620.7,180.8 L628.8,174.0 L636.7,166.9 L644.4,159.7 L651.9,152.2 L659.2,144.5 L666.3,136.6 L673.1,128.5 L679.7,120.2 L686.0,111.7 L692.1,103.0 L697.9,94.2 L703.5,85.2 L708.8,76.0 L713.9,66.7 L718.7,57.3 L723.2,47.7 L727.4,38.0 L731.4,28.1 L735.1,18.2 L738.4,8.1 L741.5,-2.0 L744.3,-12.2 L746.8,-22.5 L749.0,-32.9 L750.9,-43.3 L752.5,-53.8 L753.8,-64.3 L754.8,-74.8 L755.5,-85.4 L755.9,-96.0 L756.0,-106.6 L755.7,-117.2 L755.2,-127.7 L754.4,-138.3 L753.2,-148.8 L751.8,-159.3 L750.0,-169.8 L748.0,-180.2 L745.6,-190.5 M193.7,-119.7 L193.3,-114.1 L193.1,-108.4 L193.1,-102.8 L193.2,-97.2 L193.5,-91.5 L193.9,-85.9 L194.5,-80.3 L195.3,-74.7 L196.2,-69.2 L197.3,-63.7 L198.5,-58.2 L199.9,-52.7 L201.5,-47.3 L203.2,-41.9 L205.1,-36.6 L207.1,-31.3 L209.3,-26.1 L211.6,-21.0 L214.0,-15.9 L216.6,-11.0 L219.4,-6.0 L222.3,-1.2 L225.3,3.5 L228.5,8.2 L231.8,12.8 L235.2,17.2 L238.8,21.6 L242.5,25.9 L246.3,30.0 L250.2,34.1 L254.2,38.0 L258.4,41.8 L262.6,45.5 L267.0,49.1 L271.5,52.5 L276.0,55.8 L280.7,59.0 L285.4,62.0 L290.2,64.9 L295.2,67.7 L300.1,70.3 L305.2,72.8 L310.3,75.1 L315.5,77.3 L320.8,79.3 L326.1,81.2 L331.5,82.9 L336.9,84.5 L342.3,85.9 L347.8,87.1 L353.4,88.2 L358.9,89.2 L364.5,89.9 L370.1,90.6 L375.7,91.0 L381.3,91.3 L387.0,91.4 L392.6,91.4 L398.2,91.2 L403.8,90.8 L409.5,90.3 L415.1,89.6 L420.6,88.8 L426.2,87.8 L431.7,86.6 L437.2,85.3 L442.6,83.8 L448.0,82.2 L453.3,80.4 L458.6,78.4 L463.8,76.3 L469.0,74.1 L474.1,71.7 L479.1,69.1 L484.1,66.5 L489.0,63.6 L493.7,60.7 L498.5,57.6 L503.1,54.3 L507.6,51.0 L512.0,47.5 L516.3,43.8 L520.5,40.1 L524.6,36.2 L528.6,32.2 L532.5,28.1 L536.2,23.9 L539.8,19.6 L543.3,15.2 L546.7,10.7 L550.0,6.1 L553.1,1.4 L556.0,-3.4 L558.9,-8.3 L561.6,-13.2 L564.1,-18.2 L566.5,-23.3 L568.8,-28.5 L570.9,-33.7 L572.8,-39.0 L574.6,-44.4 L576.2,-49.7 L577.7,-55.2 L579.1,-60.7 L580.2,-66.2 L581.2,-71.7 L582.1,-77.3 L582.8,-82.9 L583.3,-88.5 L583.7,-94.1 L583.9,-99.7 L583.9,-105.4 L583.8,-111.0 L583.5,-116.6 L583.1,-122.2 L582.5,-127.8 L581.7,-133.4 L580.8,-139.0 L579.7,-144.5 L578.4,-150.0" fill="none" stroke="#94a9c9" stroke-width="0.7"/>
<path d="M21.0,95.0 L22.0,87.0 L26.0,79.0 L28.5,72.0 L32.0,65.0 L40.0,64.0 L44.0,68.0 L50.0,74.0 L61.0,74.0 L70.0,74.0 L75.5,77.6 L81.0,82.0 L88.0,84.0 L96.0,89.6 L104.0,90.5 L105.0,98.0 L103.0,100.0 L107.0,105.0 L110.5,114.5 L112.0,125.5 L118.0,131.0 L121.5,142.0 L127.0,151.0 L131.0,157.0 L138.0,164.0 L140.0,177.0 L141.0,177.0 L38.0,294.0 L42.0,300.0 L48.0,303.0 L46.0,309.0 L47.0,330.0 L45.0,333.0 L57.0,331.0 L68.0,333.0 L69.0,365.0 L69.0,377.0 L65.0,382.0 L64.0,392.0 L70.0,404.0 L72.0,412.0 L67.0,420.0 L57.0,426.0 L50.0,425.0 L42.0,419.0 L38.0,405.0 L38.0,380.0 L40.0,365.0 L42.0,350.0 L41.0,335.0 L38.0,320.0 L35.0,306.0 L28.0,295.0 L21.0,285.0Z" fill="#97e4b1"/>
<path d="M466.0,18.0 L674.0,18.0 L680.0,25.0 L690.0,32.0 L700.0,34.0 L715.0,39.0 L719.0,42.0 L710.0,47.0 L699.0,54.0 L687.0,60.0 L695.0,66.0 L700.0,72.0 L706.0,73.0 L715.0,52.0 L722.0,47.0 L725.0,50.0 L727.0,59.0 L730.0,70.0 L732.0,83.0 L731.0,95.0 L730.0,110.0 L727.0,120.0 L734.0,136.0 L737.0,158.0 L737.0,180.0 L745.0,202.0 L756.0,221.0 L767.0,243.0 L778.0,259.0 L775.0,264.0 L756.0,273.0 L740.0,281.0 L729.0,281.0 L713.0,275.0 L696.0,267.0 L677.0,256.0 L664.0,245.0 L653.0,234.0 L642.0,224.0 L631.0,210.0 L625.0,202.0 L614.0,196.0 L606.0,191.0 L604.0,183.0 L622.0,177.0 L614.0,172.0 L595.0,166.0 L582.0,158.0 L571.0,147.0 L560.0,139.0 L544.0,131.0 L525.0,124.0 L511.0,127.0 L494.0,124.0 L480.0,117.0 L467.0,103.0 L470.0,86.0 L474.0,69.0 L470.0,52.0 L467.0,25.0Z" fill="#97e4b1"/>
<path d="M800.0,25.0 L815.0,22.0 L825.0,27.0 L832.0,37.0 L835.0,52.0 L837.0,65.0 L832.0,75.0 L820.0,85.0 L815.0,92.0 L805.0,90.0 L800.0,82.0 L785.0,82.0 L780.0,75.0 L790.0,70.0 L795.0,62.0 L792.0,50.0 L795.0,37.0 L795.0,30.0Z" fill="#97e4b1"/>
<path d="M57.0,554.0 L55.0,570.0 L52.0,582.0 L49.0,591.0 L45.0,600.0 L39.0,615.0 L25.0,632.0 L21.0,636.0 L21.0,745.0 L676.0,745.0 L670.0,725.0 L680.0,717.0 L700.0,705.0 L710.0,692.0 L715.0,685.0 L700.0,680.0 L697.0,665.0 L701.0,650.0 L710.0,637.0 L720.0,630.0 L723.0,618.0 L723.0,618.0 L715.0,607.0 L712.0,600.0 L710.0,587.0 L702.0,585.0 L697.0,587.0 L691.0,587.0 L684.0,588.0 L682.0,600.0 L680.0,614.0 L678.0,629.0 L675.0,640.0 L657.0,645.0 L640.0,652.0 L627.0,662.0 L615.0,675.0 L600.0,690.0 L595.0,710.0 L580.0,718.0 L560.0,715.0 L550.0,700.0 L540.0,680.0 L530.0,662.0 L517.0,656.0 L510.0,650.0 L490.0,645.0 L470.0,640.0 L455.0,630.0 L450.0,635.0 L440.0,636.0 L427.0,634.0 L415.0,630.0 L400.0,627.0 L390.0,625.0 L386.8,620.8 L381.5,620.8 L376.1,620.7 L370.8,620.6 L365.5,620.4 L360.1,620.2 L354.8,620.0 L349.5,619.7 L344.1,619.4 L338.8,619.1 L333.5,618.7 L328.2,618.3 L322.8,617.8 L317.5,617.3 L312.2,616.8 L306.9,616.2 L301.6,615.6 L296.3,614.9 L291.0,614.2 L285.8,613.5 L280.5,612.7 L275.2,611.9 L269.9,611.0 L264.7,610.1 L259.4,609.2 L254.2,608.2 L248.9,607.2 L243.7,606.1 L238.5,605.1 L233.3,603.9 L228.0,602.8 L222.9,601.6 L217.7,600.3 L212.5,599.0 L207.3,597.7 L202.1,596.4 L197.0,595.0 L191.9,593.5 L186.7,592.1 L181.6,590.6 L176.5,589.0 L171.4,587.4 L166.3,585.8 L161.2,584.2 L156.2,582.5 L151.1,580.7 L146.1,579.0 L141.1,577.2 L136.1,575.3 L131.1,573.4 L126.1,571.5 L121.1,569.6 L116.2,567.6 L111.3,565.5 L106.3,563.5 L101.4,561.4 L96.5,559.2 L91.7,557.1 L86.8,554.9 L82.0,552.6 L77.1,550.3Z" fill="#97e4b1"/>
<path d="M159.1,726.2 L158.7,729.3 L157.6,731.9 L156.0,733.6 L154.1,734.2 L152.2,733.6 L150.5,731.9 L149.5,729.3 L149.1,726.2 L149.5,723.2 L150.5,720.6 L152.2,718.9 L154.1,718.2 L156.0,718.9 L157.6,720.6 L158.7,723.2Z" fill="#b0cdf0"/>
<path d="M287.0,632.0 L295.0,630.0 L305.0,640.0 L317.0,652.0" fill="none" stroke="#b0cdf0" stroke-width="1.2"/>
<path d="M318.0,660.0 L322.0,672.0 L318.0,685.0 L323.0,700.0" fill="none" stroke="#b0cdf0" stroke-width="1.2"/>
<path d="M48.9,588.4 L66.1,609.2 L83.7,614.9 L102.7,617.0 L126.6,626.1" fill="none" stroke="#bdebcb" stroke-width="0.8" stroke-dasharray="6,1.5"/>
<path d="M142.9,576.3 L125.1,625.5 L128.3,636.0 L114.2,649.7 L111.7,663.9 L101.1,692.3" fill="none" stroke="#bdebcb" stroke-width="0.8" stroke-dasharray="6,1.5"/>
<path d="M153.4,580.0 L147.8,596.5 L152.2,610.8 L156.4,625.0 L152.2,642.1 L165.2,668.2 L188.2,672.6 L177.1,715.7 L172.6,733.1 L199.0,739.5" fill="none" stroke="#bdebcb" stroke-width="0.8" stroke-dasharray="6,1.5"/>
<path d="M190.4,664.1 L276.0,681.2" fill="none" stroke="#bdebcb" stroke-width="0.8" stroke-dasharray="6,1.5"/>
<path d="M285.9,612.0 L265.9,751.8" fill="none" stroke="#bdebcb" stroke-width="0.8" stroke-dasharray="6,1.5"/>
<path d="M265.9,751.8 L292.9,755.2" fill="none" stroke="#bdebcb" stroke-width="0.8" stroke-dasharray="6,1.5"/>
<path d="M278.3,664.8 L369.4,672.4" fill="none" stroke="#bdebcb" stroke-width="0.8" stroke-dasharray="6,1.5"/>
<path d="M363.1,618.8 L365.2,638.0 L366.8,660.8 L369.4,672.4 L370.5,683.7 L369.8,715.6 L368.7,733.4" fill="none" stroke="#bdebcb" stroke-width="0.8" stroke-dasharray="6,1.5"/>
<path d="M271.0,716.3 L342.9,723.4 L362.3,729.6 L368.7,733.4" fill="none" stroke="#bdebcb" stroke-width="0.8" stroke-dasharray="6,1.5"/>
<path d="M369.8,715.6 L437.5,714.3" fill="none" stroke="#bdebcb" stroke-width="0.8" stroke-dasharray="6,1.5"/>
<path d="M423.3,658.6 L421.4,670.9 L416.9,681.7 L416.1,692.3 L427.7,698.9 L437.5,714.3 L446.4,731.6 L449.0,749.4 L437.8,766.3" fill="none" stroke="#bdebcb" stroke-width="0.8" stroke-dasharray="6,1.5"/>
<path d="M443.9,660.9 L455.5,668.7 L472.7,668.8 L479.8,676.9" fill="none" stroke="#bdebcb" stroke-width="0.8" stroke-dasharray="6,1.5"/>
<path d="M446.4,731.6 L483.1,728.2" fill="none" stroke="#bdebcb" stroke-width="0.8" stroke-dasharray="6,1.5"/>
<path d="M488.2,741.0 L494.1,790.5" fill="none" stroke="#bdebcb" stroke-width="0.8" stroke-dasharray="6,1.5"/>
<path d="M492.6,740.5 L541.7,734.0" fill="none" stroke="#bdebcb" stroke-width="0.8" stroke-dasharray="6,1.5"/>
<path d="M524.6,737.0 L532.4,785.2" fill="none" stroke="#bdebcb" stroke-width="0.8" stroke-dasharray="6,1.5"/>
<path d="M579.6,720.7 L585.3,745.2" fill="none" stroke="#bdebcb" stroke-width="0.8" stroke-dasharray="6,1.5"/>
<path d="M588.3,713.7 L589.4,718.4 L645.3,702.7" fill="none" stroke="#bdebcb" stroke-width="0.8" stroke-dasharray="6,1.5"/>
<path d="M653.4,643.7 L661.0,667.3 L667.7,681.0 L669.0,693.8 L673.3,712.2" fill="none" stroke="#bdebcb" stroke-width="0.8" stroke-dasharray="6,1.5"/>
<path d="M675.0,635.7 L677.0,644.4 L674.3,662.4 L677.8,677.7" fill="none" stroke="#bdebcb" stroke-width="0.8" stroke-dasharray="6,1.5"/>
<path d="M677.9,628.8 L696.8,663.3" fill="none" stroke="#bdebcb" stroke-width="0.8" stroke-dasharray="6,1.5"/>
<path d="M667.8,681.3 L695.9,668.0" fill="none" stroke="#bdebcb" stroke-width="0.8" stroke-dasharray="6,1.5"/>
<path d="M669.0,693.8 L690.3,686.3 L694.4,698.8" fill="none" stroke="#bdebcb" stroke-width="0.8" stroke-dasharray="6,1.5"/>
<path d="M13.3,654.9 L177.1,715.7" fill="none" stroke="#bdebcb" stroke-width="0.8" stroke-dasharray="6,1.5"/>
<path d="M64.2,678.0 L43.4,728.0 L92.8,824.7" fill="none" stroke="#bdebcb" stroke-width="0.8" stroke-dasharray="6,1.5"/>
<path d="M138.7,704.8 L111.9,791.7" fill="none" stroke="#bdebcb" stroke-width="0.8" stroke-dasharray="6,1.5"/>
<path d="M199.0,739.5 L183.1,810.6" fill="none" stroke="#bdebcb" stroke-width="0.8" stroke-dasharray="6,1.5"/>
<path d="M290.9,773.2 L384.3,778.6" fill="none" stroke="#bdebcb" stroke-width="0.8" stroke-dasharray="6,1.5"/>
<path d="M377.5,767.7 L437.8,766.3" fill="none" stroke="#bdebcb" stroke-width="0.8" stroke-dasharray="6,1.5"/>
<path d="M422.0,660.0 L435.0,650.0 L450.0,640.0 L457.0,632.0 L462.0,627.0 L467.0,620.0 L477.0,619.0 L487.0,619.0 L495.0,625.0 L497.0,630.0 L505.0,631.0 L509.0,635.0 L512.0,647.0 L515.0,652.0 L520.0,657.0 L507.0,655.0 L495.0,657.0 L482.0,655.0 L470.0,654.0 L467.0,647.0 L460.0,652.0 L450.0,657.0 L440.0,660.0 L430.0,661.0Z" fill="#b0cdf0"/>
<path d="M512.0,665.0 L495.0,672.0 L487.0,682.0 L482.0,700.0 L482.0,720.0 L487.0,742.0 L502.0,742.0 L500.0,720.0 L502.0,700.0 L507.0,682.0 L512.0,672.0 L517.0,666.0Z" fill="#b0cdf0"/>
<path d="M515.0,662.0 L527.0,660.0 L545.0,659.0 L560.0,657.0 L570.0,665.0 L577.0,672.0 L575.0,677.0 L565.0,675.0 L560.0,672.0 L557.0,680.0 L560.0,690.0 L557.0,700.0 L552.0,707.0 L550.0,712.0 L545.0,705.0 L537.0,702.0 L532.0,700.0 L532.0,692.0 L537.0,685.0 L535.0,675.0 L527.0,670.0 L520.0,667.0Z" fill="#b0cdf0"/>
<path d="M547.0,725.0 L555.0,722.0 L570.0,715.0 L585.0,707.0 L595.0,702.0 L600.0,705.0 L590.0,715.0 L575.0,725.0 L560.0,735.0 L547.0,737.0 L545.0,730.0Z" fill="#b0cdf0"/>
<path d="M585.0,695.0 L595.0,687.0 L610.0,680.0 L625.0,672.0 L627.0,682.0 L615.0,687.0 L600.0,697.0 L590.0,700.0Z" fill="#b0cdf0"/>
<g clip-path="url(#can)"><g mask="url(#wat)">
<rect x="21" y="20" width="839" height="721" fill="#00e000"/>
<path d="M141.0,170.0 L160.0,195.0 L200.0,210.0 L218.0,228.0 L222.0,245.0 L195.0,250.0 L185.0,257.0 L182.0,267.0 L190.0,280.0 L190.0,300.0 L175.0,312.0 L160.0,320.0 L150.0,322.0 L145.0,325.0 L137.0,335.0 L137.0,345.0 L140.0,355.0 L150.0,365.0 L168.0,371.0 L186.0,367.0 L193.0,349.0 L199.0,342.0 L204.0,351.0 L213.0,356.0 L226.0,362.0 L236.0,372.0 L252.0,387.0 L263.0,391.0 L277.0,393.0 L292.0,391.0 L315.0,392.0 L320.0,405.0 L317.0,417.0 L315.0,430.0 L302.0,437.0 L290.0,445.0 L280.0,455.0 L272.0,467.0 L275.0,485.0 L280.0,495.0 L290.0,505.0 L300.0,515.0 L310.0,525.0 L315.0,540.0 L320.0,535.0 L325.0,550.0 L330.0,570.0 L345.0,590.0 L380.0,600.0 L400.0,640.0 L60.0,600.0 L20.0,560.0 L20.0,400.0 L30.0,290.0Z" fill="#007800"/>
<path d="M141.0,170.0 L107.0,215.0 L120.0,220.0 L132.0,219.0 L142.0,222.0 L145.0,235.0 L140.0,245.0 L139.0,257.0 L140.0,275.0 L140.0,285.0 L135.0,295.0 L130.0,310.0 L125.0,325.0 L122.0,340.0 L121.0,360.0 L121.0,387.0 L112.0,399.0 L95.0,399.0 L80.0,390.0 L70.0,377.0 L30.0,300.0Z" fill="#0000ff"/>
<path d="M140.0,176.0 L146.0,178.0 L148.0,183.0 L142.0,182.0Z" fill="#0000ff"/>
<path d="M182.0,204.0 L214.0,204.0 L216.0,229.0 L204.0,229.0 L192.0,222.0 L182.0,216.0Z" fill="#00e000"/>
<path d="M192.0,211.0 L191.8,212.1 L191.1,213.1 L190.1,213.8 L189.0,214.0 L187.9,213.8 L186.9,213.1 L186.2,212.1 L186.0,211.0 L186.2,209.9 L186.9,208.9 L187.9,208.2 L189.0,208.0 L190.1,208.2 L191.1,208.9 L191.8,209.9Z" fill="#ffff00"/>
<path d="M171.0,216.0 L170.8,217.1 L170.1,218.1 L169.1,218.8 L168.0,219.0 L166.9,218.8 L165.9,218.1 L165.2,217.1 L165.0,216.0 L165.2,214.9 L165.9,213.9 L166.9,213.2 L168.0,213.0 L169.1,213.2 L170.1,213.9 L170.8,214.9Z" fill="#0000ff"/>
<path d="M77.0,412.0 L70.0,427.0 L65.0,440.0 L65.0,465.0 L67.0,480.0 L70.0,495.0 L77.0,510.0 L90.0,520.0 L95.0,530.0 L100.0,545.0 L60.0,560.0 L20.0,540.0 L20.0,400.0 L60.0,405.0Z" fill="#00e000"/>
<path d="M112.0,432.0 L115.0,420.0 L127.0,412.0 L142.0,407.0 L160.0,411.0 L175.0,412.0 L185.0,425.0 L200.0,435.0 L212.0,450.0 L215.0,465.0 L205.0,480.0 L192.0,490.0 L190.0,502.0 L180.0,500.0 L170.0,487.0 L150.0,482.0 L130.0,477.0 L117.0,465.0 L112.0,450.0Z" fill="#00e000"/>
<path d="M130.0,435.0 L135.0,425.0 L152.0,422.0 L165.0,427.0 L177.0,440.0 L195.0,447.0 L207.0,457.0 L207.0,470.0 L195.0,480.0 L182.0,485.0 L170.0,480.0 L160.0,477.0 L145.0,472.0 L132.0,465.0 L129.0,450.0Z" fill="#ffff00"/>
<path d="M137.0,445.0 L140.0,435.0 L155.0,432.0 L165.0,437.0 L177.0,447.0 L190.0,455.0 L195.0,465.0 L190.0,477.0 L177.0,480.0 L167.0,470.0 L155.0,465.0 L142.0,460.0 L136.0,455.0Z" fill="#e0a000"/>
<path d="M140.0,447.0 L145.0,442.0 L157.0,441.0 L162.0,450.0 L165.0,462.0 L155.0,460.0 L145.0,457.0 L140.0,455.0Z" fill="#ff0000"/>
<path d="M175.0,462.0 L180.0,457.0 L186.0,460.0 L186.0,470.0 L180.0,474.0 L175.0,470.0Z" fill="#ff0000"/>
<path d="M92.5,441.5 L92.1,443.4 L91.0,445.0 L89.4,446.1 L87.5,446.5 L85.6,446.1 L84.0,445.0 L82.9,443.4 L82.5,441.5 L82.9,439.6 L84.0,438.0 L85.6,436.9 L87.5,436.5 L89.4,436.9 L91.0,438.0 L92.1,439.6Z" fill="#0000ff"/>
<path d="M95.0,502.0 L94.5,504.7 L92.9,506.9 L90.7,508.5 L88.0,509.0 L85.3,508.5 L83.1,506.9 L81.5,504.7 L81.0,502.0 L81.5,499.3 L83.1,497.1 L85.3,495.5 L88.0,495.0 L90.7,495.5 L92.9,497.1 L94.5,499.3Z" fill="#0000ff"/>
<path d="M164.5,497.0 L163.9,499.9 L162.3,502.3 L159.9,503.9 L157.0,504.5 L154.1,503.9 L151.7,502.3 L150.1,499.9 L149.5,497.0 L150.1,494.1 L151.7,491.7 L154.1,490.1 L157.0,489.5 L159.9,490.1 L162.3,491.7 L163.9,494.1Z" fill="#0000ff"/>
<path d="M169.0,540.0 L168.7,541.5 L167.8,542.8 L166.5,543.7 L165.0,544.0 L163.5,543.7 L162.2,542.8 L161.3,541.5 L161.0,540.0 L161.3,538.5 L162.2,537.2 L163.5,536.3 L165.0,536.0 L166.5,536.3 L167.8,537.2 L168.7,538.5Z" fill="#0000ff"/>
<path d="M175.0,572.0 L174.6,573.9 L173.5,575.5 L171.9,576.6 L170.0,577.0 L168.1,576.6 L166.5,575.5 L165.4,573.9 L165.0,572.0 L165.4,570.1 L166.5,568.5 L168.1,567.4 L170.0,567.0 L171.9,567.4 L173.5,568.5 L174.6,570.1Z" fill="#0000ff"/>
<path d="M123.5,562.0 L123.2,563.7 L122.2,565.2 L120.7,566.2 L119.0,566.5 L117.3,566.2 L115.8,565.2 L114.8,563.7 L114.5,562.0 L114.8,560.3 L115.8,558.8 L117.3,557.8 L119.0,557.5 L120.7,557.8 L122.2,558.8 L123.2,560.3Z" fill="#0000ff"/>
<path d="M215.0,498.0 L214.7,499.5 L213.8,500.8 L212.5,501.7 L211.0,502.0 L209.5,501.7 L208.2,500.8 L207.3,499.5 L207.0,498.0 L207.3,496.5 L208.2,495.2 L209.5,494.3 L211.0,494.0 L212.5,494.3 L213.8,495.2 L214.7,496.5Z" fill="#0000ff"/>
<path d="M121.0,500.0 L120.4,504.6 L118.8,508.5 L116.4,511.1 L113.5,512.0 L110.6,511.1 L108.2,508.5 L106.6,504.6 L106.0,500.0 L106.6,495.4 L108.2,491.5 L110.6,488.9 L113.5,488.0 L116.4,488.9 L118.8,491.5 L120.4,495.4Z" fill="#0000ff"/>
<path d="M222.0,245.0 L195.0,250.0 L185.0,257.0 L182.0,267.0 L190.0,280.0 L190.0,300.0 L175.0,312.0 L160.0,320.0 L150.0,322.0 L145.0,325.0 L137.0,335.0 L137.0,345.0 L140.0,355.0 L150.0,365.0 L168.0,371.0 L186.0,367.0 L193.0,349.0 L199.0,342.0 L204.0,351.0 L213.0,356.0 L226.0,362.0 L236.0,372.0 L252.0,387.0 L263.0,391.0 L277.0,393.0 L292.0,391.0 L315.0,392.0 L330.0,380.0 L300.0,300.0 L240.0,240.0Z" fill="#00e000"/>
<path d="M202.0,373.0 L210.0,370.0 L217.0,373.0 L221.0,380.0 L223.0,391.0 L232.0,396.0 L241.0,404.0 L252.0,407.0 L257.0,414.0 L258.0,420.0 L262.0,430.0 L257.0,455.0 L252.0,480.0 L247.0,497.0 L245.0,510.0 L250.0,520.0 L265.0,520.0 L285.0,525.0 L300.0,530.0 L307.0,535.0 L310.0,550.0 L315.0,570.0 L318.0,615.0 L205.0,598.0 L210.0,583.0 L217.0,580.0 L222.0,587.0 L228.0,592.0 L240.0,595.0 L255.0,592.0 L270.0,590.0 L285.0,587.0 L290.0,580.0 L280.0,570.0 L275.0,557.0 L285.0,547.0 L280.0,542.0 L262.0,537.0 L252.0,530.0 L247.0,520.0 L244.0,510.0 L243.0,502.0 L230.0,487.0 L225.0,470.0 L228.0,465.0 L228.0,445.0 L215.0,435.0 L205.0,422.0 L210.0,410.0 L210.0,395.0 L205.0,390.0 L201.0,380.0Z" fill="#0000ff"/>
<path d="M197.0,555.0 L205.0,545.0 L225.0,542.0 L250.0,545.0 L268.0,550.0 L272.0,565.0 L265.0,578.0 L245.0,580.0 L225.0,578.0 L205.0,575.0Z" fill="#00e000"/>
<path d="M216.0,552.0 L230.0,550.0 L250.0,552.0 L263.0,558.0 L265.0,570.0 L258.0,577.0 L240.0,577.0 L222.0,573.0 L215.0,563.0Z" fill="#ffff00"/>
<path d="M222.0,557.0 L240.0,555.0 L255.0,560.0 L264.0,565.0 L260.0,574.0 L245.0,574.0 L228.0,570.0 L222.0,563.0Z" fill="#e0a000"/>
<path d="M228.0,560.0 L227.8,561.1 L227.1,562.1 L226.1,562.8 L225.0,563.0 L223.9,562.8 L222.9,562.1 L222.2,561.1 L222.0,560.0 L222.2,558.9 L222.9,557.9 L223.9,557.2 L225.0,557.0 L226.1,557.2 L227.1,557.9 L227.8,558.9Z" fill="#ff0000"/>
<path d="M255.5,564.0 L255.3,565.1 L254.6,566.1 L253.6,566.8 L252.5,567.0 L251.4,566.8 L250.4,566.1 L249.7,565.1 L249.5,564.0 L249.7,562.9 L250.4,561.9 L251.4,561.2 L252.5,561.0 L253.6,561.2 L254.6,561.9 L255.3,562.9Z" fill="#ff0000"/>
<path d="M264.0,566.0 L263.8,567.1 L263.1,568.1 L262.1,568.8 L261.0,569.0 L259.9,568.8 L258.9,568.1 L258.2,567.1 L258.0,566.0 L258.2,564.9 L258.9,563.9 L259.9,563.2 L261.0,563.0 L262.1,563.2 L263.1,563.9 L263.8,564.9Z" fill="#ff0000"/>
<path d="M260.5,575.0 L260.3,576.1 L259.6,577.1 L258.6,577.8 L257.5,578.0 L256.4,577.8 L255.4,577.1 L254.7,576.1 L254.5,575.0 L254.7,573.9 L255.4,572.9 L256.4,572.2 L257.5,572.0 L258.6,572.2 L259.6,572.9 L260.3,573.9Z" fill="#ff0000"/>
<path d="M150.0,555.0 L149.5,557.7 L147.9,559.9 L145.7,561.5 L143.0,562.0 L140.3,561.5 L138.1,559.9 L136.5,557.7 L136.0,555.0 L136.5,552.3 L138.1,550.1 L140.3,548.5 L143.0,548.0 L145.7,548.5 L147.9,550.1 L149.5,552.3Z" fill="#00e000"/>
<path d="M142.0,572.0 L141.5,574.3 L140.2,576.2 L138.3,577.5 L136.0,578.0 L133.7,577.5 L131.8,576.2 L130.5,574.3 L130.0,572.0 L130.5,569.7 L131.8,567.8 L133.7,566.5 L136.0,566.0 L138.3,566.5 L140.2,567.8 L141.5,569.7Z" fill="#00e000"/>
<path d="M181.0,548.0 L180.5,550.7 L178.9,552.9 L176.7,554.5 L174.0,555.0 L171.3,554.5 L169.1,552.9 L167.5,550.7 L167.0,548.0 L167.5,545.3 L169.1,543.1 L171.3,541.5 L174.0,541.0 L176.7,541.5 L178.9,543.1 L180.5,545.3Z" fill="#00e000"/>
<path d="M193.0,585.0 L192.2,589.2 L189.8,592.8 L186.2,595.2 L182.0,596.0 L177.8,595.2 L174.2,592.8 L171.8,589.2 L171.0,585.0 L171.8,580.8 L174.2,577.2 L177.8,574.8 L182.0,574.0 L186.2,574.8 L189.8,577.2 L192.2,580.8Z" fill="#00e000"/>
<path d="M201.0,514.0 L200.6,515.9 L199.5,517.5 L197.9,518.6 L196.0,519.0 L194.1,518.6 L192.5,517.5 L191.4,515.9 L191.0,514.0 L191.4,512.1 L192.5,510.5 L194.1,509.4 L196.0,509.0 L197.9,509.4 L199.5,510.5 L200.6,512.1Z" fill="#00e000"/>
<path d="M277.0,588.0 L276.7,589.5 L275.8,590.8 L274.5,591.7 L273.0,592.0 L271.5,591.7 L270.2,590.8 L269.3,589.5 L269.0,588.0 L269.3,586.5 L270.2,585.2 L271.5,584.3 L273.0,584.0 L274.5,584.3 L275.8,585.2 L276.7,586.5Z" fill="#00e000"/>
<path d="M145.0,519.0 L144.6,520.9 L143.5,522.5 L141.9,523.6 L140.0,524.0 L138.1,523.6 L136.5,522.5 L135.4,520.9 L135.0,519.0 L135.4,517.1 L136.5,515.5 L138.1,514.4 L140.0,514.0 L141.9,514.4 L143.5,515.5 L144.6,517.1Z" fill="#00e000"/>
<path d="M190.0,530.0 L189.6,531.9 L188.5,533.5 L186.9,534.6 L185.0,535.0 L183.1,534.6 L181.5,533.5 L180.4,531.9 L180.0,530.0 L180.4,528.1 L181.5,526.5 L183.1,525.4 L185.0,525.0 L186.9,525.4 L188.5,526.5 L189.6,528.1Z" fill="#00e000"/>
<path d="M199.0,532.0 L198.7,533.5 L197.8,534.8 L196.5,535.7 L195.0,536.0 L193.5,535.7 L192.2,534.8 L191.3,533.5 L191.0,532.0 L191.3,530.5 L192.2,529.2 L193.5,528.3 L195.0,528.0 L196.5,528.3 L197.8,529.2 L198.7,530.5Z" fill="#00e000"/>
<path d="M227.0,511.0 L226.8,512.1 L226.1,513.1 L225.1,513.8 L224.0,514.0 L222.9,513.8 L221.9,513.1 L221.2,512.1 L221.0,511.0 L221.2,509.9 L221.9,508.9 L222.9,508.2 L224.0,508.0 L225.1,508.2 L226.1,508.9 L226.8,509.9Z" fill="#00e000"/>
<path d="M211.0,566.0 L210.6,567.9 L209.5,569.5 L207.9,570.6 L206.0,571.0 L204.1,570.6 L202.5,569.5 L201.4,567.9 L201.0,566.0 L201.4,564.1 L202.5,562.5 L204.1,561.4 L206.0,561.0 L207.9,561.4 L209.5,562.5 L210.6,564.1Z" fill="#00e000"/>
<path d="M146.5,555.0 L146.2,556.3 L145.5,557.5 L144.3,558.2 L143.0,558.5 L141.7,558.2 L140.5,557.5 L139.8,556.3 L139.5,555.0 L139.8,553.7 L140.5,552.5 L141.7,551.8 L143.0,551.5 L144.3,551.8 L145.5,552.5 L146.2,553.7Z" fill="#ffff00"/>
<path d="M139.0,572.0 L138.8,573.1 L138.1,574.1 L137.1,574.8 L136.0,575.0 L134.9,574.8 L133.9,574.1 L133.2,573.1 L133.0,572.0 L133.2,570.9 L133.9,569.9 L134.9,569.2 L136.0,569.0 L137.1,569.2 L138.1,569.9 L138.8,570.9Z" fill="#ffff00"/>
<path d="M178.0,548.0 L177.7,549.5 L176.8,550.8 L175.5,551.7 L174.0,552.0 L172.5,551.7 L171.2,550.8 L170.3,549.5 L170.0,548.0 L170.3,546.5 L171.2,545.2 L172.5,544.3 L174.0,544.0 L175.5,544.3 L176.8,545.2 L177.7,546.5Z" fill="#ffff00"/>
<path d="M189.0,585.0 L188.5,587.7 L186.9,589.9 L184.7,591.5 L182.0,592.0 L179.3,591.5 L177.1,589.9 L175.5,587.7 L175.0,585.0 L175.5,582.3 L177.1,580.1 L179.3,578.5 L182.0,578.0 L184.7,578.5 L186.9,580.1 L188.5,582.3Z" fill="#ffff00"/>
<path d="M198.5,514.0 L198.3,515.0 L197.8,515.8 L197.0,516.3 L196.0,516.5 L195.0,516.3 L194.2,515.8 L193.7,515.0 L193.5,514.0 L193.7,513.0 L194.2,512.2 L195.0,511.7 L196.0,511.5 L197.0,511.7 L197.8,512.2 L198.3,513.0Z" fill="#ffff00"/>
<path d="M275.0,588.0 L274.8,588.8 L274.4,589.4 L273.8,589.8 L273.0,590.0 L272.2,589.8 L271.6,589.4 L271.2,588.8 L271.0,588.0 L271.2,587.2 L271.6,586.6 L272.2,586.2 L273.0,586.0 L273.8,586.2 L274.4,586.6 L274.8,587.2Z" fill="#ffff00"/>
<path d="M209.0,566.0 L208.8,567.1 L208.1,568.1 L207.1,568.8 L206.0,569.0 L204.9,568.8 L203.9,568.1 L203.2,567.1 L203.0,566.0 L203.2,564.9 L203.9,563.9 L204.9,563.2 L206.0,563.0 L207.1,563.2 L208.1,563.9 L208.8,564.9Z" fill="#ffff00"/>
<path d="M145.0,555.0 L144.8,555.8 L144.4,556.4 L143.8,556.8 L143.0,557.0 L142.2,556.8 L141.6,556.4 L141.2,555.8 L141.0,555.0 L141.2,554.2 L141.6,553.6 L142.2,553.2 L143.0,553.0 L143.8,553.2 L144.4,553.6 L144.8,554.2Z" fill="#ff0000"/>
<path d="M138.0,572.0 L137.8,572.8 L137.4,573.4 L136.8,573.8 L136.0,574.0 L135.2,573.8 L134.6,573.4 L134.2,572.8 L134.0,572.0 L134.2,571.2 L134.6,570.6 L135.2,570.2 L136.0,570.0 L136.8,570.2 L137.4,570.6 L137.8,571.2Z" fill="#ff0000"/>
<path d="M176.0,548.0 L175.8,548.8 L175.4,549.4 L174.8,549.8 L174.0,550.0 L173.2,549.8 L172.6,549.4 L172.2,548.8 L172.0,548.0 L172.2,547.2 L172.6,546.6 L173.2,546.2 L174.0,546.0 L174.8,546.2 L175.4,546.6 L175.8,547.2Z" fill="#ff0000"/>
<path d="M187.0,586.0 L186.6,587.9 L185.5,589.5 L183.9,590.6 L182.0,591.0 L180.1,590.6 L178.5,589.5 L177.4,587.9 L177.0,586.0 L177.4,584.1 L178.5,582.5 L180.1,581.4 L182.0,581.0 L183.9,581.4 L185.5,582.5 L186.6,584.1Z" fill="#ff0000"/>
<path d="M197.5,514.0 L197.4,514.6 L197.1,515.1 L196.6,515.4 L196.0,515.5 L195.4,515.4 L194.9,515.1 L194.6,514.6 L194.5,514.0 L194.6,513.4 L194.9,512.9 L195.4,512.6 L196.0,512.5 L196.6,512.6 L197.1,512.9 L197.4,513.4Z" fill="#ff0000"/>
<path d="M274.2,588.0 L274.1,588.5 L273.8,588.8 L273.5,589.1 L273.0,589.2 L272.5,589.1 L272.2,588.8 L271.9,588.5 L271.8,588.0 L271.9,587.5 L272.2,587.2 L272.5,586.9 L273.0,586.8 L273.5,586.9 L273.8,587.2 L274.1,587.5Z" fill="#ff0000"/>
<path d="M232.0,232.0 L227.0,250.0 L225.0,270.0 L230.0,290.0 L235.0,302.0 L245.0,317.0 L255.0,332.0 L267.0,345.0 L275.0,355.0 L285.0,360.0 L295.0,362.0 L310.0,360.0 L322.0,362.0 L332.0,365.0 L335.0,375.0 L335.0,395.0 L332.0,400.0 L332.0,420.0 L325.0,435.0 L312.0,445.0 L297.0,452.0 L287.0,462.0 L283.0,475.0 L285.0,490.0 L290.0,502.0 L302.0,512.0 L315.0,520.0 L320.0,530.0 L322.0,540.0 L330.0,560.0 L360.0,540.0 L380.0,510.0 L415.0,490.0 L440.0,480.0 L480.0,470.0 L470.0,300.0 L420.0,280.0 L385.0,240.0 L330.0,235.0 L290.0,232.0Z" fill="#ffff00"/>
<path d="M290.0,225.0 L350.0,225.0 L355.0,282.0 L345.0,295.0 L357.0,302.0 L357.0,315.0 L350.0,322.0 L335.0,325.0 L320.0,320.0 L310.0,310.0 L305.0,297.0 L295.0,285.0 L290.0,260.0Z" fill="#00e000"/>
<path d="M305.0,262.0 L315.0,257.0 L330.0,258.0 L342.0,265.0 L345.0,278.0 L342.0,290.0 L330.0,283.0 L318.0,280.0 L308.0,285.0 L305.0,275.0Z" fill="#007800"/>
<path d="M237.0,232.0 L250.0,232.0 L262.0,245.0 L270.0,255.0 L275.0,270.0 L278.0,283.0 L285.0,295.0 L283.0,303.0 L285.0,312.0 L292.0,322.0 L298.0,337.0 L295.0,348.0 L285.0,352.0 L272.0,342.0 L265.0,328.0 L262.0,315.0 L255.0,302.0 L247.0,290.0 L242.0,270.0 L240.0,252.0Z" fill="#e0a000"/>
<path d="M255.0,272.0 L262.0,268.0 L268.0,270.0 L272.0,278.0 L270.0,288.0 L263.0,295.0 L255.0,292.0 L251.0,283.0Z" fill="#ff0000"/>
<path d="M272.0,318.0 L280.0,314.0 L285.0,320.0 L285.0,333.0 L284.0,342.0 L278.0,346.0 L272.0,340.0 L270.0,328.0Z" fill="#ff0000"/>
<path d="M236.0,236.0 L243.0,235.0 L253.0,248.0 L252.0,256.0 L244.0,254.0 L238.0,246.0Z" fill="#ff0000"/>
<path d="M382.0,220.0 L430.0,220.0 L440.0,300.0 L460.0,380.0 L460.0,485.0 L430.0,480.0 L415.0,490.0 L395.0,500.0 L380.0,510.0 L370.0,520.0 L360.0,530.0 L357.0,540.0 L350.0,541.0 L327.0,530.0 L325.0,520.0 L315.0,510.0 L305.0,500.0 L295.0,485.0 L290.0,472.0 L292.0,462.0 L302.0,455.0 L315.0,447.0 L330.0,442.0 L340.0,430.0 L347.0,420.0 L357.0,405.0 L360.0,380.0 L340.0,370.0 L345.0,360.0 L350.0,355.0 L360.0,355.0 L370.0,347.0 L380.0,337.0 L382.0,325.0 L380.0,307.0 L370.0,295.0 L365.0,282.0 L370.0,270.0 L380.0,262.0Z" fill="#e0a000"/>
<path d="M395.0,359.0 L393.6,364.7 L389.7,369.6 L383.9,372.9 L377.0,374.0 L370.1,372.9 L364.3,369.6 L360.4,364.7 L359.0,359.0 L360.4,353.3 L364.3,348.4 L370.1,345.1 L377.0,344.0 L383.9,345.1 L389.7,348.4 L393.6,353.3Z" fill="#ffff00"/>
<path d="M401.0,415.0 L400.3,419.2 L398.4,422.8 L395.4,425.2 L392.0,426.0 L388.6,425.2 L385.6,422.8 L383.7,419.2 L383.0,415.0 L383.7,410.8 L385.6,407.2 L388.6,404.8 L392.0,404.0 L395.4,404.8 L398.4,407.2 L400.3,410.8Z" fill="#ffff00"/>
<path d="M230.0,349.0 L229.5,351.3 L228.2,353.2 L226.3,354.5 L224.0,355.0 L221.7,354.5 L219.8,353.2 L218.5,351.3 L218.0,349.0 L218.5,346.7 L219.8,344.8 L221.7,343.5 L224.0,343.0 L226.3,343.5 L228.2,344.8 L229.5,346.7Z" fill="#ffff00"/>
<path d="M226.5,349.0 L226.3,350.0 L225.8,350.8 L225.0,351.3 L224.0,351.5 L223.0,351.3 L222.2,350.8 L221.7,350.0 L221.5,349.0 L221.7,348.0 L222.2,347.2 L223.0,346.7 L224.0,346.5 L225.0,346.7 L225.8,347.2 L226.3,348.0Z" fill="#e0a000"/>
<path d="M410.0,315.0 L430.0,312.0 L432.0,345.0 L415.0,345.0 L410.0,330.0Z" fill="#ff0000"/>
<path d="M400.0,375.0 L415.0,369.0 L425.0,375.0 L423.0,385.0 L415.0,395.0 L405.0,400.0 L399.0,390.0Z" fill="#ff0000"/>
<path d="M300.0,497.0 L315.0,510.0 L322.0,527.0 L335.0,530.0 L342.0,527.0 L365.0,527.0 L375.0,520.0 L395.0,510.0 L415.0,502.0 L430.0,492.0 L440.0,485.0 L445.0,480.0 L400.0,470.0 L330.0,480.0Z" fill="#e0a000"/>
<path d="M300.0,512.0 L312.0,527.0 L325.0,537.0 L342.0,542.0 L360.0,547.0 L370.0,555.0 L372.0,567.0 L382.0,550.0 L395.0,537.0 L407.0,527.0 L422.0,522.0 L427.0,532.0 L435.0,545.0 L450.0,547.0 L460.0,537.0 L475.0,532.0 L490.0,530.0 L505.0,527.0 L520.0,525.0 L525.0,505.0 L470.0,495.0 L440.0,485.0 L415.0,502.0 L395.0,510.0 L375.0,520.0 L365.0,527.0 L335.0,530.0 L322.0,527.0Z" fill="#ffff00"/>
<path d="M447.0,535.0 L446.5,537.3 L445.2,539.2 L443.3,540.5 L441.0,541.0 L438.7,540.5 L436.8,539.2 L435.5,537.3 L435.0,535.0 L435.5,532.7 L436.8,530.8 L438.7,529.5 L441.0,529.0 L443.3,529.5 L445.2,530.8 L446.5,532.7Z" fill="#e0a000"/>
<path d="M467.0,505.0 L480.0,497.0 L500.0,500.0 L515.0,505.0 L515.0,515.0 L505.0,522.0 L490.0,522.0 L475.0,518.0 L468.0,512.0Z" fill="#e0a000"/>
<path d="M494.0,510.0 L493.3,513.1 L491.4,515.7 L488.4,517.4 L485.0,518.0 L481.6,517.4 L478.6,515.7 L476.7,513.1 L476.0,510.0 L476.7,506.9 L478.6,504.3 L481.6,502.6 L485.0,502.0 L488.4,502.6 L491.4,504.3 L493.3,506.9Z" fill="#ff0000"/>
<path d="M365.0,430.0 L380.0,434.0 L390.0,435.0 L395.0,452.0 L410.0,462.0 L410.0,475.0 L395.0,475.0 L380.0,475.0 L365.0,485.0 L357.0,495.0 L347.0,505.0 L335.0,505.0 L325.0,502.0 L315.0,500.0 L305.0,490.0 L310.0,480.0 L320.0,475.0 L322.0,465.0 L330.0,460.0 L335.0,450.0 L345.0,445.0 L350.0,437.0Z" fill="#ff0000"/>
<path d="M319.5,459.5 L319.0,461.8 L317.7,463.7 L315.8,465.0 L313.5,465.5 L311.2,465.0 L309.3,463.7 L308.0,461.8 L307.5,459.5 L308.0,457.2 L309.3,455.3 L311.2,454.0 L313.5,453.5 L315.8,454.0 L317.7,455.3 L319.0,457.2Z" fill="#ff0000"/>
<path d="M298.5,472.0 L298.1,474.1 L296.9,475.9 L295.1,477.1 L293.0,477.5 L290.9,477.1 L289.1,475.9 L287.9,474.1 L287.5,472.0 L287.9,469.9 L289.1,468.1 L290.9,466.9 L293.0,466.5 L295.1,466.9 L296.9,468.1 L298.1,469.9Z" fill="#ff0000"/>
<path d="M295.0,507.0 L294.6,508.9 L293.5,510.5 L291.9,511.6 L290.0,512.0 L288.1,511.6 L286.5,510.5 L285.4,508.9 L285.0,507.0 L285.4,505.1 L286.5,503.5 L288.1,502.4 L290.0,502.0 L291.9,502.4 L293.5,503.5 L294.6,505.1Z" fill="#ff0000"/>
<path d="M328.5,519.0 L328.2,520.7 L327.2,522.2 L325.7,523.2 L324.0,523.5 L322.3,523.2 L320.8,522.2 L319.8,520.7 L319.5,519.0 L319.8,517.3 L320.8,515.8 L322.3,514.8 L324.0,514.5 L325.7,514.8 L327.2,515.8 L328.2,517.3Z" fill="#ff0000"/>
<path d="M305.0,530.0 L315.0,545.0 L327.0,547.0 L340.0,560.0 L357.0,565.0 L370.0,575.0 L377.0,570.0 L387.0,552.0 L400.0,545.0 L412.0,540.0 L430.0,545.0 L440.0,550.0 L455.0,552.0 L475.0,550.0 L490.0,545.0 L505.0,540.0 L520.0,537.0 L530.0,540.0 L545.0,560.0 L560.0,570.0 L580.0,590.0 L600.0,630.0 L400.0,640.0 L330.0,620.0 L300.0,600.0Z" fill="#007800"/>
<path d="M350.0,575.0 L360.0,580.0 L372.0,590.0 L375.0,600.0 L350.0,600.0Z" fill="#00e000"/>
<path d="M387.0,590.0 L400.0,570.0 L412.0,566.0 L430.0,567.0 L450.0,572.0 L460.0,582.0 L475.0,582.0 L490.0,570.0 L505.0,567.0 L520.0,567.0 L520.0,570.0 L535.0,572.0 L550.0,580.0 L560.0,587.0 L567.0,600.0 L570.0,625.0 L582.0,627.0 L602.0,620.0 L620.0,616.0 L632.0,615.0 L645.0,614.0 L655.0,615.0 L665.0,622.0 L677.0,627.0 L690.0,632.0 L690.0,745.0 L400.0,745.0 L385.0,625.0Z" fill="#0000ff"/>
<path d="M410.5,552.0 L410.2,553.3 L409.5,554.5 L408.3,555.2 L407.0,555.5 L405.7,555.2 L404.5,554.5 L403.8,553.3 L403.5,552.0 L403.8,550.7 L404.5,549.5 L405.7,548.8 L407.0,548.5 L408.3,548.8 L409.5,549.5 L410.2,550.7Z" fill="#0000ff"/>
<path d="M468.0,561.0 L467.7,562.5 L466.8,563.8 L465.5,564.7 L464.0,565.0 L462.5,564.7 L461.2,563.8 L460.3,562.5 L460.0,561.0 L460.3,559.5 L461.2,558.2 L462.5,557.3 L464.0,557.0 L465.5,557.3 L466.8,558.2 L467.7,559.5Z" fill="#00e000"/>
<path d="M339.0,581.0 L338.5,583.3 L337.2,585.2 L335.3,586.5 L333.0,587.0 L330.7,586.5 L328.8,585.2 L327.5,583.3 L327.0,581.0 L327.5,578.7 L328.8,576.8 L330.7,575.5 L333.0,575.0 L335.3,575.5 L337.2,576.8 L338.5,578.7Z" fill="#0000ff"/>
<path d="M387.0,598.0 L386.5,600.3 L385.2,602.2 L383.3,603.5 L381.0,604.0 L378.7,603.5 L376.8,602.2 L375.5,600.3 L375.0,598.0 L375.5,595.7 L376.8,593.8 L378.7,592.5 L381.0,592.0 L383.3,592.5 L385.2,593.8 L386.5,595.7Z" fill="#0000ff"/>
<path d="M419.5,607.0 L419.2,608.7 L418.2,610.2 L416.7,611.2 L415.0,611.5 L413.3,611.2 L411.8,610.2 L410.8,608.7 L410.5,607.0 L410.8,605.3 L411.8,603.8 L413.3,602.8 L415.0,602.5 L416.7,602.8 L418.2,603.8 L419.2,605.3Z" fill="#007800"/>
<path d="M445.0,618.0 L444.7,619.5 L443.8,620.8 L442.5,621.7 L441.0,622.0 L439.5,621.7 L438.2,620.8 L437.3,619.5 L437.0,618.0 L437.3,616.5 L438.2,615.2 L439.5,614.3 L441.0,614.0 L442.5,614.3 L443.8,615.2 L444.7,616.5Z" fill="#007800"/>
<path d="M475.0,610.0 L485.0,605.0 L497.0,608.0 L500.0,618.0 L495.0,625.0 L480.0,625.0Z" fill="#007800"/>
<path d="M317.0,592.0 L330.0,590.0 L342.0,598.0 L342.0,612.0 L335.0,620.0 L318.0,620.0Z" fill="#00e000"/>
<path d="M360.0,614.0 L359.5,616.3 L358.2,618.2 L356.3,619.5 L354.0,620.0 L351.7,619.5 L349.8,618.2 L348.5,616.3 L348.0,614.0 L348.5,611.7 L349.8,609.8 L351.7,608.5 L354.0,608.0 L356.3,608.5 L358.2,609.8 L359.5,611.7Z" fill="#00e000"/>
<path d="M325.0,613.0 L324.7,614.5 L323.8,615.8 L322.5,616.7 L321.0,617.0 L319.5,616.7 L318.2,615.8 L317.3,614.5 L317.0,613.0 L317.3,611.5 L318.2,610.2 L319.5,609.3 L321.0,609.0 L322.5,609.3 L323.8,610.2 L324.7,611.5Z" fill="#ffff00"/>
<path d="M338.0,604.0 L337.7,605.5 L336.8,606.8 L335.5,607.7 L334.0,608.0 L332.5,607.7 L331.2,606.8 L330.3,605.5 L330.0,604.0 L330.3,602.5 L331.2,601.2 L332.5,600.3 L334.0,600.0 L335.5,600.3 L336.8,601.2 L337.7,602.5Z" fill="#ffff00"/>
<path d="M358.0,613.0 L357.8,614.1 L357.1,615.1 L356.1,615.8 L355.0,616.0 L353.9,615.8 L352.9,615.1 L352.2,614.1 L352.0,613.0 L352.2,611.9 L352.9,610.9 L353.9,610.2 L355.0,610.0 L356.1,610.2 L357.1,610.9 L357.8,611.9Z" fill="#ffff00"/>
<path d="M323.0,614.0 L322.8,614.8 L322.4,615.4 L321.8,615.8 L321.0,616.0 L320.2,615.8 L319.6,615.4 L319.2,614.8 L319.0,614.0 L319.2,613.2 L319.6,612.6 L320.2,612.2 L321.0,612.0 L321.8,612.2 L322.4,612.6 L322.8,613.2Z" fill="#ff0000"/>
<path d="M336.0,604.0 L335.8,604.8 L335.4,605.4 L334.8,605.8 L334.0,606.0 L333.2,605.8 L332.6,605.4 L332.2,604.8 L332.0,604.0 L332.2,603.2 L332.6,602.6 L333.2,602.2 L334.0,602.0 L334.8,602.2 L335.4,602.6 L335.8,603.2Z" fill="#ff0000"/>
<path d="M585.0,375.0 L570.0,395.0 L562.0,410.0 L560.0,427.0 L567.0,440.0 L582.0,450.0 L605.0,460.0 L625.0,465.0 L632.0,475.0 L632.0,492.0 L630.0,510.0 L635.0,530.0 L642.0,545.0 L650.0,560.0 L660.0,580.0 L700.0,600.0 L760.0,560.0 L740.0,530.0 L720.0,512.0 L710.0,490.0 L695.0,480.0 L680.0,460.0 L675.0,452.0 L662.0,445.0 L655.0,430.0 L655.0,405.0 L650.0,380.0 L640.0,360.0Z" fill="#007800"/>
<path d="M627.0,417.0 L626.5,419.7 L624.9,421.9 L622.7,423.5 L620.0,424.0 L617.3,423.5 L615.1,421.9 L613.5,419.7 L613.0,417.0 L613.5,414.3 L615.1,412.1 L617.3,410.5 L620.0,410.0 L622.7,410.5 L624.9,412.1 L626.5,414.3Z" fill="#0000ff"/>
<path d="M642.0,398.0 L641.5,400.3 L640.2,402.2 L638.3,403.5 L636.0,404.0 L633.7,403.5 L631.8,402.2 L630.5,400.3 L630.0,398.0 L630.5,395.7 L631.8,393.8 L633.7,392.5 L636.0,392.0 L638.3,392.5 L640.2,393.8 L641.5,395.7Z" fill="#0000ff"/>
<path d="M585.5,434.0 L585.3,435.0 L584.8,435.8 L584.0,436.3 L583.0,436.5 L582.0,436.3 L581.2,435.8 L580.7,435.0 L580.5,434.0 L580.7,433.0 L581.2,432.2 L582.0,431.7 L583.0,431.5 L584.0,431.7 L584.8,432.2 L585.3,433.0Z" fill="#0000ff"/>
<path d="M650.0,378.0 L655.0,385.0 L660.0,402.0 L675.0,425.0 L685.0,445.0 L695.0,455.0 L700.0,467.0 L710.0,475.0 L720.0,475.0 L735.0,472.0 L760.0,470.0 L770.0,452.0 L760.0,430.0 L770.0,420.0 L700.0,380.0Z" fill="#ffff00"/>
<path d="M655.0,385.0 L668.0,384.0 L690.0,390.0 L697.0,405.0 L692.0,420.0 L680.0,425.0 L668.0,418.0 L660.0,400.0Z" fill="#e0a000"/>
<path d="M660.0,386.0 L672.0,386.0 L690.0,395.0 L692.0,410.0 L686.0,417.0 L676.0,412.0 L666.0,400.0Z" fill="#ff0000"/>
<path d="M701.0,467.0 L700.3,470.4 L698.4,473.4 L695.4,475.3 L692.0,476.0 L688.6,475.3 L685.6,473.4 L683.7,470.4 L683.0,467.0 L683.7,463.6 L685.6,460.6 L688.6,458.7 L692.0,458.0 L695.4,458.7 L698.4,460.6 L700.3,463.6Z" fill="#e0a000"/>
<path d="M697.0,467.0 L696.6,468.9 L695.5,470.5 L693.9,471.6 L692.0,472.0 L690.1,471.6 L688.5,470.5 L687.4,468.9 L687.0,467.0 L687.4,465.1 L688.5,463.5 L690.1,462.4 L692.0,462.0 L693.9,462.4 L695.5,463.5 L696.6,465.1Z" fill="#ff0000"/>
<path d="M710.0,420.0 L730.0,417.0 L757.0,422.0 L767.0,430.0 L765.0,445.0 L750.0,462.0 L735.0,467.0 L718.0,462.0 L710.0,448.0 L715.0,435.0Z" fill="#e0a000"/>
<path d="M728.0,432.0 L745.0,432.0 L752.0,445.0 L742.0,455.0 L730.0,452.0Z" fill="#ffff00"/>
<path d="M734.0,451.0 L733.4,454.4 L731.7,457.4 L729.1,459.3 L726.0,460.0 L722.9,459.3 L720.3,457.4 L718.6,454.4 L718.0,451.0 L718.6,447.6 L720.3,444.6 L722.9,442.7 L726.0,442.0 L729.1,442.7 L731.7,444.6 L733.4,447.6Z" fill="#ff0000"/>
<path d="M725.0,417.0 L740.0,417.0 L738.0,430.0 L728.0,430.0Z" fill="#ff0000"/>
<path d="M742.0,425.0 L757.0,426.0 L755.0,434.0 L744.0,434.0Z" fill="#ff0000"/>
<path d="M710.0,440.0 L720.0,440.0 L720.0,460.0 L710.0,460.0Z" fill="#e0a000"/>
<path d="M760.0,430.0 L777.0,435.0 L778.0,452.0 L765.0,455.0Z" fill="#00e000"/>
<path d="M770.0,437.0 L777.0,440.0 L776.0,446.0 L770.0,445.0Z" fill="#007800"/>
<path d="M705.0,472.0 L735.0,468.0 L770.0,475.0 L770.0,512.0 L710.0,512.0 L700.0,490.0Z" fill="#00e000"/>
<path d="M735.0,474.0 L765.0,476.0 L767.0,507.0 L735.0,508.0Z" fill="#ffff00"/>
<path d="M760.0,488.0 L759.7,489.5 L758.8,490.8 L757.5,491.7 L756.0,492.0 L754.5,491.7 L753.2,490.8 L752.3,489.5 L752.0,488.0 L752.3,486.5 L753.2,485.2 L754.5,484.3 L756.0,484.0 L757.5,484.3 L758.8,485.2 L759.7,486.5Z" fill="#e0a000"/>
<path d="M758.0,488.0 L757.8,488.8 L757.4,489.4 L756.8,489.8 L756.0,490.0 L755.2,489.8 L754.6,489.4 L754.2,488.8 L754.0,488.0 L754.2,487.2 L754.6,486.6 L755.2,486.2 L756.0,486.0 L756.8,486.2 L757.4,486.6 L757.8,487.2Z" fill="#ff0000"/>
<path d="M745.0,504.0 L744.7,505.5 L743.8,506.8 L742.5,507.7 L741.0,508.0 L739.5,507.7 L738.2,506.8 L737.3,505.5 L737.0,504.0 L737.3,502.5 L738.2,501.2 L739.5,500.3 L741.0,500.0 L742.5,500.3 L743.8,501.2 L744.7,502.5Z" fill="#e0a000"/>
<path d="M743.0,504.0 L742.8,504.8 L742.4,505.4 L741.8,505.8 L741.0,506.0 L740.2,505.8 L739.6,505.4 L739.2,504.8 L739.0,504.0 L739.2,503.2 L739.6,502.6 L740.2,502.2 L741.0,502.0 L741.8,502.2 L742.4,502.6 L742.8,503.2Z" fill="#ff0000"/>
<path d="M675.0,510.0 L690.0,507.0 L705.0,512.0 L708.0,525.0 L700.0,537.0 L685.0,537.0 L676.0,528.0Z" fill="#0000ff"/>
<path d="M555.0,557.0 L570.0,580.0 L580.0,600.0 L572.0,610.0 L577.0,620.0 L595.0,625.0 L610.0,617.0 L625.0,615.0 L635.0,620.0 L647.0,612.0 L655.0,602.0 L650.0,592.0 L650.0,580.0 L640.0,572.0 L635.0,557.0 L632.0,545.0 L640.0,532.0 L637.0,515.0 L600.0,515.0 L555.0,530.0Z" fill="#00e000"/>
<path d="M557.0,552.0 L570.0,557.0 L585.0,555.0 L595.0,562.0 L597.0,577.0 L602.0,587.0 L615.0,587.0 L622.0,580.0 L622.0,565.0 L620.0,550.0 L620.0,535.0 L625.0,515.0 L560.0,515.0Z" fill="#ffff00"/>
<path d="M562.0,518.0 L565.0,540.0 L582.0,535.0 L595.0,537.0 L602.0,555.0 L600.0,567.0 L605.0,580.0 L615.0,582.0 L622.0,570.0 L617.0,560.0 L615.0,545.0 L620.0,518.0Z" fill="#e0a000"/>
<path d="M545.0,445.0 L557.0,450.0 L575.0,460.0 L595.0,470.0 L615.0,480.0 L625.0,492.0 L627.0,510.0 L625.0,530.0 L620.0,545.0 L615.0,560.0 L560.0,570.0 L540.0,520.0Z" fill="#ffff00"/>
<path d="M552.0,455.0 L575.0,467.0 L595.0,475.0 L612.0,482.0 L622.0,497.0 L625.0,512.0 L622.0,525.0 L612.0,535.0 L605.0,545.0 L600.0,555.0 L590.0,530.0 L580.0,527.0 L565.0,535.0 L560.0,545.0 L545.0,520.0Z" fill="#e0a000"/>
<path d="M560.0,462.0 L567.0,472.0 L570.0,485.0 L575.0,492.0 L595.0,490.0 L610.0,492.0 L615.0,505.0 L612.0,517.0 L605.0,525.0 L590.0,525.0 L580.0,515.0 L570.0,520.0 L560.0,530.0 L557.0,540.0 L550.0,530.0 L547.0,515.0 L542.0,502.0 L550.0,490.0 L557.0,480.0 L550.0,465.0Z" fill="#ff0000"/>
<path d="M566.0,542.0 L565.7,543.5 L564.8,544.8 L563.5,545.7 L562.0,546.0 L560.5,545.7 L559.2,544.8 L558.3,543.5 L558.0,542.0 L558.3,540.5 L559.2,539.2 L560.5,538.3 L562.0,538.0 L563.5,538.3 L564.8,539.2 L565.7,540.5Z" fill="#ff0000"/>
<path d="M619.0,572.0 L618.5,573.9 L616.9,575.5 L614.7,576.6 L612.0,577.0 L609.3,576.6 L607.1,575.5 L605.5,573.9 L605.0,572.0 L605.5,570.1 L607.1,568.5 L609.3,567.4 L612.0,567.0 L614.7,567.4 L616.9,568.5 L618.5,570.1Z" fill="#ff0000"/>
<path d="M550.0,518.0 L570.0,518.0 L568.0,542.0 L556.0,540.0Z" fill="#ff0000"/>
<path d="M594.0,611.0 L593.5,613.3 L592.2,615.2 L590.3,616.5 L588.0,617.0 L585.7,616.5 L583.8,615.2 L582.5,613.3 L582.0,611.0 L582.5,608.7 L583.8,606.8 L585.7,605.5 L588.0,605.0 L590.3,605.5 L592.2,606.8 L593.5,608.7Z" fill="#ffff00"/>
<path d="M591.0,611.0 L590.8,612.1 L590.1,613.1 L589.1,613.8 L588.0,614.0 L586.9,613.8 L585.9,613.1 L585.2,612.1 L585.0,611.0 L585.2,609.9 L585.9,608.9 L586.9,608.2 L588.0,608.0 L589.1,608.2 L590.1,608.9 L590.8,609.9Z" fill="#ff0000"/>
<path d="M649.0,581.0 L648.5,582.9 L647.2,584.5 L645.3,585.6 L643.0,586.0 L640.7,585.6 L638.8,584.5 L637.5,582.9 L637.0,581.0 L637.5,579.1 L638.8,577.5 L640.7,576.4 L643.0,576.0 L645.3,576.4 L647.2,577.5 L648.5,579.1Z" fill="#ffff00"/>
<path d="M652.0,603.0 L651.6,604.5 L650.5,605.8 L648.9,606.7 L647.0,607.0 L645.1,606.7 L643.5,605.8 L642.4,604.5 L642.0,603.0 L642.4,601.5 L643.5,600.2 L645.1,599.3 L647.0,599.0 L648.9,599.3 L650.5,600.2 L651.6,601.5Z" fill="#ffff00"/>
<path d="M649.0,603.0 L648.8,603.8 L648.4,604.4 L647.8,604.8 L647.0,605.0 L646.2,604.8 L645.6,604.4 L645.2,603.8 L645.0,603.0 L645.2,602.2 L645.6,601.6 L646.2,601.2 L647.0,601.0 L647.8,601.2 L648.4,601.6 L648.8,602.2Z" fill="#e0a000"/>
<path d="M580.0,611.0 L579.6,612.9 L578.5,614.5 L576.9,615.6 L575.0,616.0 L573.1,615.6 L571.5,614.5 L570.4,612.9 L570.0,611.0 L570.4,609.1 L571.5,607.5 L573.1,606.4 L575.0,606.0 L576.9,606.4 L578.5,607.5 L579.6,609.1Z" fill="#00e000"/>
<path d="M667.0,548.0 L684.0,552.0 L680.0,563.0 L670.0,562.0Z" fill="#00e000"/>
<path d="M725.0,524.0 L735.0,521.0 L750.0,522.0 L745.0,527.0 L735.0,528.0 L726.0,527.0Z" fill="#007800"/>
<path d="M700.0,560.0 L760.0,560.0 L800.0,540.0 L800.0,640.0 L740.0,640.0 L700.0,600.0Z" fill="#007800"/>
<path d="M743.0,566.0 L772.0,566.0 L770.0,578.0 L743.0,578.0Z" fill="#00e000"/>
<path d="M708.0,546.0 L721.0,539.0 L730.0,544.0 L730.0,561.0 L721.0,566.0 L713.0,570.0 L715.0,574.0 L712.0,587.0 L710.0,596.0 L702.0,588.0 L695.0,587.0 L686.0,592.0 L678.0,596.0 L675.0,592.0 L682.0,583.0 L691.0,581.0 L700.0,570.0 L708.0,559.0 L715.0,548.0Z" fill="#0000ff"/>
<path d="M690.0,560.0 L700.0,548.0 L705.0,552.0 L695.0,566.0Z" fill="#00e000"/>
<path d="M750.0,610.0 L763.0,610.0 L763.0,623.0 L752.0,623.0Z" fill="#0000ff"/>
<path d="M743.0,618.0 L758.0,620.0 L756.0,634.0 L744.0,634.0Z" fill="#ffff00"/>
<path d="M745.0,614.0 L760.0,616.0 L758.0,621.0 L745.0,620.0Z" fill="#00e000"/>
<path d="M779.0,546.0 L789.0,546.0 L789.0,575.0 L779.0,575.0Z" fill="#0000ff"/>
<path d="M789.0,555.0 L798.0,555.0 L796.0,575.0 L789.0,575.0Z" fill="#00e000"/>
<path d="M660.0,603.0 L676.0,603.0 L676.0,620.0 L660.0,620.0Z" fill="#00e000"/>
<path d="M670.0,608.0 L669.8,609.1 L669.1,610.1 L668.1,610.8 L667.0,611.0 L665.9,610.8 L664.9,610.1 L664.2,609.1 L664.0,608.0 L664.2,606.9 L664.9,605.9 L665.9,605.2 L667.0,605.0 L668.1,605.2 L669.1,605.9 L669.8,606.9Z" fill="#ffff00"/>
<path d="M660.0,622.0 L682.0,622.0 L682.0,645.0 L660.0,645.0Z" fill="#0000ff"/>
<path d="M775.0,440.0 L860.0,440.0 L860.0,540.0 L775.0,540.0Z" fill="#00e000"/>
<path d="M782.0,482.0 L795.0,478.0 L807.0,490.0 L805.0,505.0 L795.0,510.0 L783.0,508.0Z" fill="#007800"/>
<path d="M825.0,470.0 L840.0,470.0 L842.0,500.0 L838.0,520.0 L826.0,520.0 L828.0,490.0Z" fill="#ffff00"/>
<path d="M840.0,480.0 L850.0,484.0 L857.0,500.0 L850.0,506.0 L842.0,500.0Z" fill="#e0a000"/>
<path d="M846.0,484.0 L852.0,488.0 L855.0,500.0 L849.0,500.0Z" fill="#ff0000"/>
<path d="M809.0,518.0 L808.7,519.1 L807.8,520.1 L806.5,520.8 L805.0,521.0 L803.5,520.8 L802.2,520.1 L801.3,519.1 L801.0,518.0 L801.3,516.9 L802.2,515.9 L803.5,515.2 L805.0,515.0 L806.5,515.2 L807.8,515.9 L808.7,516.9Z" fill="#e0a000"/>
<path d="M807.0,518.0 L806.8,518.8 L806.4,519.4 L805.8,519.8 L805.0,520.0 L804.2,519.8 L803.6,519.4 L803.2,518.8 L803.0,518.0 L803.2,517.2 L803.6,516.6 L804.2,516.2 L805.0,516.0 L805.8,516.2 L806.4,516.6 L806.8,517.2Z" fill="#ff0000"/>
<path d="M230.0,150.0 L300.0,150.0 L300.0,215.0 L230.0,215.0Z" fill="#00e000"/>
<path d="M250.0,157.0 L272.0,160.0 L280.0,168.0 L275.0,178.0 L262.0,186.0 L268.0,192.0 L262.0,200.0 L255.0,207.0 L245.0,200.0 L240.0,190.0 L245.0,175.0Z" fill="#ffff00"/>
<path d="M252.0,198.0 L265.0,195.0 L265.0,205.0 L255.0,212.0 L245.0,212.0Z" fill="#e0a000"/>
<path d="M286.0,175.0 L295.0,185.0 L290.0,192.0 L272.0,193.0 L275.0,185.0Z" fill="#ffff00"/>
<path d="M262.0,200.0 L280.0,196.0 L295.0,200.0 L300.0,212.0 L295.0,228.0 L288.0,240.0 L275.0,248.0 L265.0,245.0 L262.0,230.0Z" fill="#e0a000"/>
<path d="M263.0,215.0 L275.0,213.0 L278.0,222.0 L270.0,228.0 L262.0,226.0Z" fill="#ff0000"/>
<path d="M280.0,192.0 L312.0,196.0 L318.0,215.0 L315.0,235.0 L305.0,245.0 L295.0,250.0 L285.0,250.0 L288.0,235.0 L292.0,220.0 L285.0,205.0Z" fill="#ffff00"/>
<path d="M312.0,200.0 L345.0,195.0 L352.0,250.0 L358.0,275.0 L330.0,282.0 L305.0,280.0 L300.0,262.0 L308.0,240.0 L318.0,215.0Z" fill="#00e000"/>
<path d="M305.0,262.0 L315.0,257.0 L330.0,258.0 L342.0,265.0 L345.0,278.0 L342.0,290.0 L330.0,283.0 L318.0,280.0 L308.0,285.0 L305.0,275.0Z" fill="#007800"/>
<path d="M322.0,196.0 L346.0,194.0 L348.0,226.0 L326.0,229.0Z" fill="#ffff00"/>
<path d="M325.0,196.0 L345.0,195.0 L342.0,207.0 L330.0,208.0Z" fill="#e0a000"/>
<path d="M340.5,199.0 L340.2,200.3 L339.5,201.5 L338.3,202.2 L337.0,202.5 L335.7,202.2 L334.5,201.5 L333.8,200.3 L333.5,199.0 L333.8,197.7 L334.5,196.5 L335.7,195.8 L337.0,195.5 L338.3,195.8 L339.5,196.5 L340.2,197.7Z" fill="#ff0000"/>
<path d="M260.0,240.0 L282.0,240.0 L282.0,258.0 L262.0,258.0Z" fill="#e0a000"/>
<path d="M276.0,243.0 L293.0,241.0 L297.0,278.0 L279.0,278.0Z" fill="#ffff00"/>
<path d="M270.0,110.0 L345.0,105.0 L345.0,180.0 L270.0,180.0Z" fill="#ffff00"/>
<path d="M330.0,150.0 L340.0,150.0 L343.0,170.0 L334.0,170.0Z" fill="#00e000"/>
<path d="M352.0,98.0 L368.0,98.0 L372.0,110.0 L368.0,120.0 L358.0,118.0Z" fill="#ff0000"/>
<path d="M366.0,110.0 L375.0,112.0 L374.0,127.0 L366.0,126.0Z" fill="#e0a000"/>
<path d="M376.0,108.0 L390.0,110.0 L390.0,130.0 L376.0,128.0Z" fill="#ffff00"/>
<path d="M365.0,128.0 L418.0,120.0 L418.0,190.0 L365.0,190.0Z" fill="#00e000"/>
<path d="M352.0,148.0 L365.0,146.0 L377.0,150.0 L377.0,160.0 L370.0,167.0 L358.0,166.0 L352.0,158.0Z" fill="#ffff00"/>
<path d="M377.0,112.0 L385.0,110.0 L389.0,118.0 L388.0,127.0 L380.0,128.0 L377.0,120.0Z" fill="#ffff00"/>
<path d="M349.0,127.0 L352.0,126.0 L354.0,133.0 L353.0,137.0 L350.0,135.0Z" fill="#ffff00"/>
<path d="M419.0,157.0 L458.0,155.0 L458.0,186.0 L419.0,186.0Z" fill="#ffff00"/>
<path d="M450.0,168.0 L460.0,168.0 L460.0,180.0 L450.0,180.0Z" fill="#e0a000"/>
<path d="M380.0,18.0 L475.0,18.0 L475.0,125.0 L380.0,125.0Z" fill="#007800"/>
<path d="M434.0,18.0 L472.0,18.0 L470.0,44.0 L463.0,64.0 L455.0,50.0 L445.0,35.0Z" fill="#0000ff"/>
<path d="M375.0,35.0 L421.0,40.0 L423.5,54.5 L422.0,65.6 L412.5,75.2 L401.4,84.9 L400.0,96.0 L405.6,109.8 L412.5,122.0 L375.0,125.0Z" fill="#00e000"/>
<path d="M384.0,86.0 L389.0,70.0 L397.0,58.0 L405.0,51.0 L412.0,47.0 L412.0,56.0 L408.0,66.0 L402.0,76.0 L396.0,84.0 L390.0,90.0Z" fill="#ffff00"/>
<path d="M387.0,71.0 L397.0,57.0 L406.0,55.0 L407.0,68.0 L401.0,78.0 L390.0,79.0Z" fill="#e0a000"/>
<path d="M390.0,64.0 L396.0,62.0 L400.0,68.0 L399.0,74.0 L392.0,73.0Z" fill="#ff0000"/>
<path d="M405.5,68.0 L405.3,69.0 L404.8,69.8 L404.0,70.3 L403.0,70.5 L402.0,70.3 L401.2,69.8 L400.7,69.0 L400.5,68.0 L400.7,67.0 L401.2,66.2 L402.0,65.7 L403.0,65.5 L404.0,65.7 L404.8,66.2 L405.3,67.0Z" fill="#ff0000"/>
<path d="M350.0,193.0 L384.0,193.0 L384.0,242.0 L350.0,242.0Z" fill="#ffff00"/>
<path d="M368.0,192.0 L380.0,192.0 L380.0,210.0 L368.0,210.0Z" fill="#00e000"/>
<path d="M385.0,190.0 L412.0,190.0 L412.0,207.0 L397.0,207.0 L397.0,240.0 L385.0,240.0Z" fill="#00e000"/>
<path d="M389.0,199.0 L411.0,199.0 L411.0,218.0 L389.0,218.0Z" fill="#ffff00"/>
<path d="M386.0,236.0 L402.0,236.0 L402.0,252.0 L386.0,252.0Z" fill="#ffff00"/>
<path d="M376.0,232.0 L412.0,232.0 L412.0,258.0 L378.0,262.0Z" fill="#ffff00"/>
<path d="M380.0,254.0 L412.0,254.0 L412.0,266.0 L382.0,266.0Z" fill="#e0a000"/>
<path d="M389.0,264.0 L400.0,262.0 L407.0,266.0 L407.0,278.0 L400.0,284.0 L392.0,283.0Z" fill="#ff0000"/>
<path d="M362.0,268.0 L372.0,264.0 L380.0,268.0 L388.0,276.0 L389.0,288.0 L382.0,294.0 L372.0,292.0 L365.0,284.0Z" fill="#e0a000"/>
<path d="M360.0,264.0 L375.0,262.0 L375.0,284.0 L360.0,284.0Z" fill="#ffff00"/>
<path d="M376.0,278.0 L388.0,276.0 L389.0,288.0 L380.0,290.0Z" fill="#ff0000"/>
<path d="M440.0,175.0 L560.0,195.0 L625.0,245.0 L620.0,360.0 L500.0,360.0 L470.0,255.0 L440.0,255.0Z" fill="#ff0000"/>
<path d="M418.0,190.0 L458.0,190.0 L455.0,258.0 L418.0,258.0Z" fill="#e0a000"/>
<path d="M415.0,195.0 L438.0,195.0 L438.0,240.0 L415.0,240.0Z" fill="#ffff00"/>
<path d="M447.0,190.0 L480.0,190.0 L475.0,258.0 L450.0,258.0Z" fill="#ff0000"/>
<path d="M497.0,248.0 L525.0,248.0 L530.0,270.0 L505.0,274.0Z" fill="#e0a000"/>
<path d="M575.0,298.0 L598.0,300.0 L615.0,318.0 L616.0,335.0 L600.0,335.0 L585.0,320.0Z" fill="#e0a000"/>
<path d="M595.0,303.0 L612.0,312.0 L616.0,330.0 L605.0,328.0 L598.0,315.0Z" fill="#ffff00"/>
<path d="M540.0,328.0 L575.0,326.0 L600.0,338.0 L612.0,346.0 L610.0,353.0 L560.0,352.0 L540.0,344.0Z" fill="#e0a000"/>
<path d="M555.0,341.0 L590.0,339.0 L612.0,346.0 L610.0,354.0 L575.0,354.0 L555.0,349.0Z" fill="#ffff00"/>
<path d="M590.0,262.0 L606.0,262.0 L606.0,295.0 L590.0,295.0Z" fill="#e0a000"/>
<path d="M595.0,277.0 L606.0,277.0 L606.0,295.0 L595.0,295.0Z" fill="#ffff00"/>
<path d="M605.0,290.0 L604.7,291.5 L603.8,292.8 L602.5,293.7 L601.0,294.0 L599.5,293.7 L598.2,292.8 L597.3,291.5 L597.0,290.0 L597.3,288.5 L598.2,287.2 L599.5,286.3 L601.0,286.0 L602.5,286.3 L603.8,287.2 L604.7,288.5Z" fill="#00e000"/>
<path d="M415.0,274.0 L447.0,274.0 L447.0,352.0 L415.0,352.0Z" fill="#e0a000"/>
<path d="M415.0,274.0 L429.0,274.0 L429.0,290.0 L415.0,290.0Z" fill="#ffff00"/>
<path d="M445.0,258.0 L462.0,256.0 L484.0,258.0 L484.0,300.0 L475.0,305.0 L470.0,312.0 L457.0,320.0 L445.0,340.0 L430.0,343.0 L415.0,338.0 L410.0,325.0 L415.0,320.0 L425.0,315.0 L437.0,307.0 L450.0,302.0 L447.0,285.0 L445.0,270.0Z" fill="#ff0000"/>
<path d="M430.0,284.0 L429.4,286.7 L427.7,288.9 L425.1,290.5 L422.0,291.0 L418.9,290.5 L416.3,288.9 L414.6,286.7 L414.0,284.0 L414.6,281.3 L416.3,279.1 L418.9,277.5 L422.0,277.0 L425.1,277.5 L427.7,279.1 L429.4,281.3Z" fill="#ffff00"/>
<path d="M498.0,272.0 L518.0,272.0 L518.0,282.0 L498.0,282.0Z" fill="#e0a000"/>
<path d="M452.0,345.0 L465.0,338.0 L480.0,337.0 L492.0,342.0 L495.0,352.0 L488.0,362.0 L475.0,370.0 L462.0,372.0 L452.0,362.0 L450.0,352.0Z" fill="#ffff00"/>
<path d="M475.0,376.0 L485.0,372.0 L489.0,378.0 L485.0,386.0 L476.0,387.0Z" fill="#ffff00"/>
<path d="M505.0,379.0 L510.0,378.0 L512.0,385.0 L510.0,391.0 L506.0,390.0Z" fill="#ffff00"/>
<path d="M522.0,535.0 L530.0,533.0 L537.0,536.0 L533.0,540.0 L524.0,540.0Z" fill="#00e000"/>
<path d="M530.0,474.0 L536.0,472.0 L540.0,478.0 L538.0,486.0 L532.0,487.0 L529.0,481.0Z" fill="#ff0000"/>
<path d="M521.0,360.0 L520.7,361.1 L519.8,362.1 L518.5,362.8 L517.0,363.0 L515.5,362.8 L514.2,362.1 L513.3,361.1 L513.0,360.0 L513.3,358.9 L514.2,357.9 L515.5,357.2 L517.0,357.0 L518.5,357.2 L519.8,357.9 L520.7,358.9Z" fill="#e0a000"/>
<path d="M617.0,346.0 L625.0,347.0 L626.0,354.0 L619.0,353.0Z" fill="#ff0000"/>
<path d="M605.0,377.0 L609.0,376.0 L610.0,383.0 L606.0,384.0Z" fill="#007800"/>
<path d="M518.0,368.0 L540.0,368.0 L538.0,380.0 L522.0,382.0Z" fill="#ffff00"/>
<path d="M521.0,365.0 L592.0,372.0 L600.0,395.0 L585.0,376.0 L570.0,395.0 L562.0,410.0 L560.0,427.0 L567.0,440.0 L550.0,447.0 L530.0,445.0 L520.0,400.0Z" fill="#00e000"/>
<path d="M68.0,505.0 L95.0,510.0 L106.0,520.0 L108.0,545.0 L103.0,562.0 L70.0,562.0 L45.0,540.0 L40.0,500.0Z" fill="#00e000"/>
<path d="M40.0,495.0 L60.0,495.0 L70.0,505.0 L72.0,520.0 L85.0,522.0 L100.0,527.0 L103.0,545.0 L100.0,561.0 L60.0,561.0 L50.0,535.0Z" fill="#ffff00"/>
<path d="M45.0,525.0 L62.0,523.0 L64.0,545.0 L50.0,545.0Z" fill="#00e000"/>
<path d="M77.0,530.0 L95.0,530.0 L101.0,545.0 L99.0,559.0 L64.0,558.0 L62.0,550.0 L78.0,548.0Z" fill="#e0a000"/>
<path d="M65.0,513.0 L64.7,514.5 L63.8,515.8 L62.5,516.7 L61.0,517.0 L59.5,516.7 L58.2,515.8 L57.3,514.5 L57.0,513.0 L57.3,511.5 L58.2,510.2 L59.5,509.3 L61.0,509.0 L62.5,509.3 L63.8,510.2 L64.7,511.5Z" fill="#e0a000"/>
<path d="M80.0,535.0 L92.0,535.0 L99.0,545.0 L98.0,557.0 L86.0,557.0 L80.0,548.0Z" fill="#ff0000"/>
<path d="M63.0,552.0 L75.0,552.0 L75.0,560.0 L64.0,560.0Z" fill="#ff0000"/>
<path d="M64.5,537.5 L64.3,538.3 L63.9,538.9 L63.3,539.3 L62.5,539.5 L61.7,539.3 L61.1,538.9 L60.7,538.3 L60.5,537.5 L60.7,536.7 L61.1,536.1 L61.7,535.7 L62.5,535.5 L63.3,535.7 L63.9,536.1 L64.3,536.7Z" fill="#007800"/>
<path d="M24.0,420.0 L42.0,420.0 L42.0,432.0 L24.0,432.0Z" fill="#ffff00"/>
<path d="M24.0,452.0 L42.0,452.0 L42.0,468.0 L24.0,468.0Z" fill="#ffff00"/>
<path d="M46.0,430.0 L55.0,430.0 L55.0,448.0 L46.0,448.0Z" fill="#ffff00"/>
</g></g>
<path d="M543.0,283.0 L552.0,281.0 L557.0,285.0 L552.0,290.0 L549.0,297.0 L545.0,290.0Z" fill="#b0cdf0"/>
<path d="M550.0,312.0 L557.0,310.0 L562.0,315.0 L558.0,321.0 L552.0,320.0Z" fill="#b0cdf0"/>
<path d="M381.0,361.0 L388.0,360.0 L394.0,363.0 L390.0,366.0 L382.0,365.0Z" fill="#b0cdf0"/>
<path d="M337.0,375.0 L345.0,372.0 L347.0,380.0 L340.0,385.0Z" fill="#b0cdf0"/>
<path d="M353.0,380.0 L358.0,378.0 L362.0,385.0 L356.0,390.0Z" fill="#b0cdf0"/>
<path d="M327.0,547.0 L337.0,552.0 L340.0,565.0 L347.0,577.0 L352.0,592.0 L350.0,595.0 L342.0,582.0 L335.0,570.0 L330.0,557.0Z" fill="#b0cdf0"/>
<path d="M386.0,612.0 L392.0,606.0 L400.0,610.0 L398.0,620.0 L390.0,622.0Z" fill="#b0cdf0"/>
<path d="M465.5,602.0 L465.2,604.7 L464.2,606.9 L462.7,608.5 L461.0,609.0 L459.3,608.5 L457.8,606.9 L456.8,604.7 L456.5,602.0 L456.8,599.3 L457.8,597.1 L459.3,595.5 L461.0,595.0 L462.7,595.5 L464.2,597.1 L465.2,599.3Z" fill="#b0cdf0"/>
<path d="M614.0,540.0 L619.0,539.0 L623.0,552.0 L618.0,554.0Z" fill="#b0cdf0"/>
<path d="M612.0,590.0 L622.0,587.0 L626.0,594.0 L615.0,597.0Z" fill="#b0cdf0"/>
<path d="M660.0,517.0 L666.0,516.0 L667.0,524.0 L661.0,526.0Z" fill="#b0cdf0"/>
<path d="M651.0,579.0 L650.7,580.1 L649.8,581.1 L648.5,581.8 L647.0,582.0 L645.5,581.8 L644.2,581.1 L643.3,580.1 L643.0,579.0 L643.3,577.9 L644.2,576.9 L645.5,576.2 L647.0,576.0 L648.5,576.2 L649.8,576.9 L650.7,577.9Z" fill="#b0cdf0"/>
<path d="M320.0,465.0 L327.0,467.0 L325.0,477.0 L320.0,485.0 L315.0,490.0 L312.0,485.0 L316.0,475.0Z" fill="#b0cdf0"/>
<path d="M355.0,472.0 L360.0,475.0 L355.0,482.0 L347.0,487.0 L346.0,484.0Z" fill="#b0cdf0"/>
<path d="M257.0,475.0 L265.0,480.0 L262.0,490.0 L257.0,492.0Z" fill="#b0cdf0"/>
<path d="M417.0,331.0 L428.0,329.0 L437.0,333.0 L432.0,339.0 L420.0,338.0Z" fill="#b0cdf0"/>
<path d="M191.8,281.4 L198.0,282.3 L207.0,283.2 L216.4,282.3 L227.3,283.2 L233.6,286.8 L229.0,287.7 L222.7,289.5 L228.0,294.0 L234.5,295.0 L240.0,295.0 L238.0,299.5 L234.5,303.0 L232.7,306.8 L229.0,306.0 L223.6,304.0 L220.0,306.8 L216.4,307.7 L211.0,310.5 L206.4,312.3 L207.3,309.5 L213.6,305.0 L207.3,303.0 L201.0,303.0 L195.5,301.4 L201.0,298.6 L206.4,296.0 L212.7,294.0 L207.3,292.3 L202.7,287.7 L196.4,285.0 L192.7,284.0Z" fill="#b0cdf0"/>
<path d="M211.8,380.0 L219.0,383.6 L226.4,380.0 L235.5,376.4 L237.3,371.0 L230.0,361.8 L235.5,363.6 L242.7,372.7 L251.8,378.2 L262.7,372.7 L273.6,370.0 L281.0,373.6 L273.6,376.4 L266.4,377.3 L259.0,381.8 L250.0,387.3 L239.0,389.0 L233.6,392.7 L224.5,391.0 L217.3,387.3 L212.7,384.5Z" fill="#b0cdf0"/>
<path d="M237.0,437.0 L247.0,435.0 L257.0,430.0 L267.0,427.0 L277.0,432.0 L292.0,437.0 L280.0,436.0 L270.0,434.0 L260.0,437.0 L250.0,440.0 L240.0,441.0Z" fill="#b0cdf0"/>
<path d="M345.0,540.0 L352.0,538.0 L358.0,548.0 L365.0,560.0 L370.0,575.0 L368.0,590.0 L360.0,585.0 L355.0,570.0 L350.0,555.0Z" fill="#b0cdf0"/>
<path d="M422.0,660.0 L435.0,650.0 L450.0,640.0 L457.0,632.0 L462.0,627.0 L467.0,620.0 L477.0,619.0 L487.0,619.0 L495.0,625.0 L497.0,630.0 L505.0,631.0 L509.0,635.0 L512.0,647.0 L515.0,652.0 L520.0,657.0 L507.0,655.0 L495.0,657.0 L482.0,655.0 L470.0,654.0 L467.0,647.0 L460.0,652.0 L450.0,657.0 L440.0,660.0 L430.0,661.0Z" fill="#b0cdf0"/>
<path d="M512.0,665.0 L495.0,672.0 L487.0,682.0 L482.0,700.0 L482.0,720.0 L487.0,742.0 L502.0,742.0 L500.0,720.0 L502.0,700.0 L507.0,682.0 L512.0,672.0 L517.0,666.0Z" fill="#b0cdf0"/>
<path d="M515.0,662.0 L527.0,660.0 L545.0,659.0 L560.0,657.0 L570.0,665.0 L577.0,672.0 L575.0,677.0 L565.0,675.0 L560.0,672.0 L557.0,680.0 L560.0,690.0 L557.0,700.0 L552.0,707.0 L550.0,712.0 L545.0,705.0 L537.0,702.0 L532.0,700.0 L532.0,692.0 L537.0,685.0 L535.0,675.0 L527.0,670.0 L520.0,667.0Z" fill="#b0cdf0"/>
<path d="M547.0,725.0 L555.0,722.0 L570.0,715.0 L585.0,707.0 L595.0,702.0 L600.0,705.0 L590.0,715.0 L575.0,725.0 L560.0,735.0 L547.0,737.0 L545.0,730.0Z" fill="#b0cdf0"/>
<path d="M585.0,695.0 L595.0,687.0 L610.0,680.0 L625.0,672.0 L627.0,682.0 L615.0,687.0 L600.0,697.0 L590.0,700.0Z" fill="#b0cdf0"/>
<path d="M490.0,196.0 L483.0,210.0" fill="none" stroke="#b0cdf0" stroke-width="1.3"/>
<path d="M499.0,200.0 L492.0,214.0" fill="none" stroke="#b0cdf0" stroke-width="1.3"/>
<path d="M509.0,204.0 L502.0,218.0" fill="none" stroke="#b0cdf0" stroke-width="1.3"/>
<path d="M519.0,209.0 L512.0,223.0" fill="none" stroke="#b0cdf0" stroke-width="1.3"/>
<path d="M529.0,214.0 L522.0,228.0" fill="none" stroke="#b0cdf0" stroke-width="1.3"/>
<path d="M539.0,218.0 L532.0,232.0" fill="none" stroke="#b0cdf0" stroke-width="1.3"/>
<path d="M550.0,226.0 L543.0,240.0" fill="none" stroke="#b0cdf0" stroke-width="1.3"/>
<path d="M560.0,236.0 L553.0,250.0" fill="none" stroke="#b0cdf0" stroke-width="1.3"/>
<path d="M572.0,243.0 L565.0,257.0" fill="none" stroke="#b0cdf0" stroke-width="1.3"/>
<path d="M585.0,247.0 L578.0,261.0" fill="none" stroke="#b0cdf0" stroke-width="1.3"/>
<path d="M598.0,250.0 L591.0,264.0" fill="none" stroke="#b0cdf0" stroke-width="1.3"/>
<path d="M407.0,75.0 L418.0,79.0 L425.0,77.0 L433.0,71.0 L439.0,68.0" fill="none" stroke="#b0cdf0" stroke-width="1.3"/>
<path d="M418.0,79.0 L415.0,85.0 L418.0,92.0 L421.0,97.0 L425.0,103.0 L429.0,106.0 L432.0,108.0" fill="none" stroke="#b0cdf0" stroke-width="1.3"/>
<path d="M423.0,82.0 L432.0,90.0 L435.0,92.0" fill="none" stroke="#b0cdf0" stroke-width="1.3"/>
<path d="M412.0,85.0 L412.0,108.0 L415.0,117.0" fill="none" stroke="#b0cdf0" stroke-width="1.3"/>
<path d="M457.0,45.0 L465.0,42.0" fill="none" stroke="#b0cdf0" stroke-width="1.3"/>
<path d="M457.0,54.0 L464.0,48.0" fill="none" stroke="#b0cdf0" stroke-width="1.3"/>
<path d="M433.0,61.0 L436.0,59.0 L437.0,66.0" fill="none" stroke="#b0cdf0" stroke-width="1.3"/>
<path d="M152.0,203.0 L146.0,212.0 L140.0,222.0 L137.0,228.0 L145.0,235.0 L140.0,252.0 L139.0,265.0 L140.0,285.0 L137.0,297.0 L135.0,315.0 L136.0,330.0 L137.0,355.0 L152.0,362.0 L152.6,377.0" fill="none" stroke="#000" stroke-width="0.8"/>
<path d="M48.7,310.2 L52.5,313.3 L56.3,316.3 L60.1,319.3 L64.0,322.3 L67.9,325.2 L71.8,328.1 L75.7,330.9 L79.7,333.8 L83.7,336.6 L87.7,339.3 L91.7,342.0 L95.8,344.7 L99.9,347.3 L104.0,349.9 L108.1,352.5 L112.3,355.0 L116.4,357.5 L120.6,360.0 L124.9,362.4 L129.1,364.8 L133.4,367.1 L137.7,369.4 L142.0,371.6 L146.3,373.9 L150.7,376.0 L155.0,378.2 L159.4,380.3 L163.8,382.3 L168.2,384.4 L172.7,386.3 L177.2,388.3 L181.6,390.2 L186.1,392.0 L190.6,393.9 L195.2,395.6 L199.7,397.4 L204.3,399.1 L208.9,400.7 L213.4,402.3 L218.1,403.9 L222.7,405.4 L227.3,406.9 L231.9,408.4 L236.6,409.8 L241.3,411.1 L246.0,412.4 L250.7,413.7 L255.4,414.9 L260.1,416.1 L264.8,417.3 L269.6,418.4 L274.3,419.4 L279.1,420.4 L283.8,421.4 L288.6,422.3 L293.4,423.2 L298.2,424.1 L303.0,424.9 L307.8,425.6 L312.6,426.3 L317.4,427.0 L322.2,427.6 L327.1,428.2 L331.9,428.7 L336.7,429.2 L341.6,429.7 L346.4,430.1 L351.3,430.4 L356.1,430.8 L361.0,431.0 L365.9,431.3 L370.7,431.4 L375.6,431.6 L380.5,431.7 L385.3,431.7 L390.2,431.7" fill="none" stroke="#000" stroke-width="0.8"/>
<path d="M183.3,390.9 L176.6,407.0 L169.9,423.1 L163.2,439.2 L156.5,455.4 L149.8,471.6 L143.0,487.9 L147.0,500.0 L152.0,515.0 L160.0,530.0 L165.0,545.0 L170.0,565.0 L174.9,589.0" fill="none" stroke="#000" stroke-width="0.8"/>
<path d="M263.3,416.9 L259.0,434.9 L254.6,453.0 L250.3,471.1 L245.9,489.2 L241.5,507.4 L237.2,525.7 L232.8,544.0 L228.3,562.3 L223.9,580.8 L219.5,599.3" fill="none" stroke="#000" stroke-width="0.8"/>
<path d="M329.6,428.5 L321.8,499.1 L322.8,499.2 L316.3,617.2" fill="none" stroke="#000" stroke-width="0.8"/>
<path d="M444.0,483.0 L387.0,554.0 L387.0,621.0" fill="none" stroke="#000" stroke-width="0.8"/>
<path d="M336.0,400.0 L335.0,380.0 L337.0,357.0 L287.0,340.0 L280.0,325.0 L270.0,322.0 L232.0,265.0 L240.0,240.0" fill="none" stroke="#000" stroke-width="0.8"/>
<path d="M262.0,241.0 L264.0,247.0 L287.0,250.0 L303.0,252.0 L315.0,205.0 L325.0,162.0 L327.0,145.0 L335.0,117.0 L339.0,106.0" fill="none" stroke="#000" stroke-width="0.8"/>
<path d="M336.0,400.0 L330.0,429.0" fill="none" stroke="#000" stroke-width="0.8"/>
<path d="M552.0,559.0 L560.0,582.0 L567.0,605.0 L570.0,625.0 L580.0,640.0 L595.0,642.0 L615.0,650.0 L630.0,647.0 L640.0,642.0" fill="none" stroke="#000" stroke-width="0.8"/>
<path d="M632.0,367.0 L640.0,377.0 L652.0,390.0 L660.0,400.0 L667.0,415.0 L675.0,427.0 L682.0,440.0 L682.0,450.0 L670.0,455.0 L655.0,452.0 L652.0,460.0 L657.0,470.0 L665.0,480.0 L667.0,490.0 L680.0,492.0 L690.0,500.0 L700.0,497.0 L702.0,490.0 L707.0,487.0 L730.0,472.0 L750.0,460.0 L767.0,452.0 L775.0,460.0" fill="none" stroke="#000" stroke-width="0.8"/>
</g>
<rect x="1.5" y="1.5" width="878" height="758" fill="none" stroke="#000" stroke-width="1"/>
<rect x="21.5" y="20.5" width="839" height="721" fill="none" stroke="#000" stroke-width="1"/>
<line x1="86" y1="15" x2="86" y2="20" stroke="#000" stroke-width="2"/>
<text x="86" y="11" text-anchor="middle" font-family="Liberation Sans, DejaVu Sans, sans-serif" font-size="9.5" fill="#000">170°W</text>
<line x1="184" y1="15" x2="184" y2="20" stroke="#000" stroke-width="2"/>
<text x="184" y="11" text-anchor="middle" font-family="Liberation Sans, DejaVu Sans, sans-serif" font-size="9.5" fill="#000">160°W</text>
<line x1="242" y1="15" x2="242" y2="20" stroke="#000" stroke-width="2"/>
<text x="242" y="11" text-anchor="middle" font-family="Liberation Sans, DejaVu Sans, sans-serif" font-size="9.5" fill="#000">150°W</text>
<line x1="282" y1="15" x2="282" y2="20" stroke="#000" stroke-width="2"/>
<text x="282" y="11" text-anchor="middle" font-family="Liberation Sans, DejaVu Sans, sans-serif" font-size="9.5" fill="#000">140°W</text>
<line x1="312" y1="15" x2="312" y2="20" stroke="#000" stroke-width="2"/>
<line x1="337" y1="15" x2="337" y2="20" stroke="#000" stroke-width="2"/>
<text x="337" y="11" text-anchor="middle" font-family="Liberation Sans, DejaVu Sans, sans-serif" font-size="9.5" fill="#000">120°W</text>
<line x1="359" y1="15" x2="359" y2="20" stroke="#000" stroke-width="2"/>
<line x1="379" y1="15" x2="379" y2="20" stroke="#000" stroke-width="2"/>
<text x="379" y="11" text-anchor="middle" font-family="Liberation Sans, DejaVu Sans, sans-serif" font-size="9.5" fill="#000">100°W</text>
<line x1="398" y1="15" x2="398" y2="20" stroke="#000" stroke-width="2"/>
<line x1="419" y1="15" x2="419" y2="20" stroke="#000" stroke-width="2"/>
<text x="419" y="11" text-anchor="middle" font-family="Liberation Sans, DejaVu Sans, sans-serif" font-size="9.5" fill="#000">80°W</text>
<line x1="465" y1="15" x2="465" y2="20" stroke="#000" stroke-width="2"/>
<text x="465" y="11" text-anchor="middle" font-family="Liberation Sans, DejaVu Sans, sans-serif" font-size="9.5" fill="#000">60°W</text>
<line x1="495" y1="15" x2="495" y2="20" stroke="#000" stroke-width="2"/>
<text x="495" y="11" text-anchor="middle" font-family="Liberation Sans, DejaVu Sans, sans-serif" font-size="9.5" fill="#000">50°W</text>
<line x1="535" y1="15" x2="535" y2="20" stroke="#000" stroke-width="2"/>
<text x="535" y="11" text-anchor="middle" font-family="Liberation Sans, DejaVu Sans, sans-serif" font-size="9.5" fill="#000">40°W</text>
<line x1="593" y1="15" x2="593" y2="20" stroke="#000" stroke-width="2"/>
<text x="593" y="11" text-anchor="middle" font-family="Liberation Sans, DejaVu Sans, sans-serif" font-size="9.5" fill="#000">30°W</text>
<line x1="691" y1="15" x2="691" y2="20" stroke="#000" stroke-width="2"/>
<text x="691" y="11" text-anchor="middle" font-family="Liberation Sans, DejaVu Sans, sans-serif" font-size="9.5" fill="#000">20°W</text>
<line x1="38" y1="741" x2="38" y2="747" stroke="#000" stroke-width="2"/>
<text x="38" y="757" text-anchor="middle" font-family="Liberation Sans, DejaVu Sans, sans-serif" font-size="9.5" fill="#000">120°W</text>
<line x1="186" y1="741" x2="186" y2="747" stroke="#000" stroke-width="2"/>
<text x="186" y="757" text-anchor="middle" font-family="Liberation Sans, DejaVu Sans, sans-serif" font-size="9.5" fill="#000">110°W</text>
<line x1="322" y1="741" x2="322" y2="747" stroke="#000" stroke-width="2"/>
<text x="322" y="757" text-anchor="middle" font-family="Liberation Sans, DejaVu Sans, sans-serif" font-size="9.5" fill="#000">100°W</text>
<line x1="455" y1="741" x2="455" y2="747" stroke="#000" stroke-width="2"/>
<text x="455" y="757" text-anchor="middle" font-family="Liberation Sans, DejaVu Sans, sans-serif" font-size="9.5" fill="#000">90°W</text>
<line x1="592" y1="741" x2="592" y2="747" stroke="#000" stroke-width="2"/>
<text x="592" y="757" text-anchor="middle" font-family="Liberation Sans, DejaVu Sans, sans-serif" font-size="9.5" fill="#000">80°W</text>
<line x1="739" y1="741" x2="739" y2="747" stroke="#000" stroke-width="2"/>
<text x="739" y="757" text-anchor="middle" font-family="Liberation Sans, DejaVu Sans, sans-serif" font-size="9.5" fill="#000">70°W</text>
<line x1="16" y1="287" x2="21" y2="287" stroke="#000" stroke-width="2"/>
<text transform="translate(12,287) rotate(-90)" text-anchor="middle" font-family="Liberation Sans, DejaVu Sans, sans-serif" font-size="9.5" fill="#000" textLength="21" lengthAdjust="spacingAndGlyphs">60°N</text>
<line x1="16" y1="500.5" x2="21" y2="500.5" stroke="#000" stroke-width="2"/>
<text transform="translate(12,500.5) rotate(-90)" text-anchor="middle" font-family="Liberation Sans, DejaVu Sans, sans-serif" font-size="9.5" fill="#000" textLength="21" lengthAdjust="spacingAndGlyphs">50°N</text>
<line x1="16" y1="699.5" x2="21" y2="699.5" stroke="#000" stroke-width="2"/>
<text transform="translate(12,699.5) rotate(-90)" text-anchor="middle" font-family="Liberation Sans, DejaVu Sans, sans-serif" font-size="9.5" fill="#000" textLength="21" lengthAdjust="spacingAndGlyphs">40°N</text>
<line x1="860" y1="151.5" x2="865" y2="151.5" stroke="#000" stroke-width="2"/>
<text transform="translate(876,151.5) rotate(-90)" text-anchor="middle" font-family="Liberation Sans, DejaVu Sans, sans-serif" font-size="9.5" fill="#000" textLength="21" lengthAdjust="spacingAndGlyphs">60°N</text>
<line x1="860" y1="422.5" x2="865" y2="422.5" stroke="#000" stroke-width="2"/>
<text transform="translate(876,422.5) rotate(-90)" text-anchor="middle" font-family="Liberation Sans, DejaVu Sans, sans-serif" font-size="9.5" fill="#000" textLength="21" lengthAdjust="spacingAndGlyphs">50°N</text>
<line x1="860" y1="642.5" x2="865" y2="642.5" stroke="#000" stroke-width="2"/>
<text transform="translate(876,642.5) rotate(-90)" text-anchor="middle" font-family="Liberation Sans, DejaVu Sans, sans-serif" font-size="9.5" fill="#000" textLength="21" lengthAdjust="spacingAndGlyphs">40°N</text>
<rect x="33" y="33" width="10.5" height="22" fill="#c00000"/><rect x="65" y="33" width="10.5" height="22" fill="#c00000"/>
<path transform="translate(54.5,44) scale(1.3) translate(-54.5,-44)" d="M54.5,36 l1.3,2.6 1.5,-0.8 -0.6,3.4 1.9,-1.7 0.5,1.2 2.3,-0.4 -0.7,2.3 1.2,0.6 -3.9,3.1 0.4,1.3 -3.5,-0.5 0,3.6 -0.8,0 0,-3.6 -3.5,0.5 0.4,-1.3 -3.9,-3.1 1.2,-0.6 -0.7,-2.3 2.3,0.4 0.5,-1.2 1.9,1.7 -0.6,-3.4 1.5,0.8z" fill="#c00000"/>
<text x="81.5" y="41" font-family="Liberation Sans, DejaVu Sans, sans-serif" font-size="11" fill="#000">Natural Resources</text><text x="81.5" y="54.5" font-family="Liberation Sans, DejaVu Sans, sans-serif" font-size="11" fill="#000">Canada</text>
<text x="186.5" y="41" font-family="Liberation Sans, DejaVu Sans, sans-serif" font-size="11" fill="#000">Ressources naturelles</text><text x="186.5" y="54.5" font-family="Liberation Sans, DejaVu Sans, sans-serif" font-size="11" fill="#000">Canada</text>
<text x="536" y="59.3" font-size="23" font-family="DejaVu Sans, Liberation Sans, sans-serif" fill="#000" textLength="167" lengthAdjust="spacingAndGlyphs">Mixing Height</text>
<text x="536" y="89.8" font-size="23" font-family="DejaVu Sans, Liberation Sans, sans-serif" fill="#000" textLength="244" lengthAdjust="spacingAndGlyphs">Hauteur de mélange</text>
<text x="536" y="119" font-size="23" font-family="DejaVu Sans, Liberation Sans, sans-serif" fill="#000" textLength="124" lengthAdjust="spacingAndGlyphs">2016-08-07</text>
<rect x="625.5" y="135.5" width="34" height="17" fill="#ff0000" stroke="#000" stroke-width="1"/>
<text x="675.5" y="149.8" font-size="16" font-family="DejaVu Sans, Liberation Sans, sans-serif" fill="#000" textLength="38.2" lengthAdjust="spacingAndGlyphs">0 - 60</text>
<rect x="625.5" y="160.5" width="34" height="17" fill="#e0a000" stroke="#000" stroke-width="1"/>
<text x="675.5" y="174.8" font-size="16" font-family="DejaVu Sans, Liberation Sans, sans-serif" fill="#000" textLength="56" lengthAdjust="spacingAndGlyphs">60 - 150</text>
<rect x="625.5" y="185.5" width="34" height="17" fill="#ffff00" stroke="#000" stroke-width="1"/>
<text x="675.5" y="199.8" font-size="16" font-family="DejaVu Sans, Liberation Sans, sans-serif" fill="#000" textLength="65.2" lengthAdjust="spacingAndGlyphs">150 - 300</text>
<rect x="625.5" y="210.5" width="34" height="17" fill="#00e000" stroke="#000" stroke-width="1"/>
<text x="675.5" y="224.8" font-size="16" font-family="DejaVu Sans, Liberation Sans, sans-serif" fill="#000" textLength="64.2" lengthAdjust="spacingAndGlyphs">300 - 600</text>
<rect x="625.5" y="235.5" width="34" height="17" fill="#007800" stroke="#000" stroke-width="1"/>
<text x="675.5" y="249.8" font-size="16" font-family="DejaVu Sans, Liberation Sans, sans-serif" fill="#000" textLength="73.6" lengthAdjust="spacingAndGlyphs">600 - 1200</text>
<rect x="625.5" y="260.5" width="34" height="17" fill="#0000ff" stroke="#000" stroke-width="1"/>
<text x="675.5" y="274.8" font-size="16" font-family="DejaVu Sans, Liberation Sans, sans-serif" fill="#000" textLength="48" lengthAdjust="spacingAndGlyphs">&gt; 1200</text>
<g stroke="#000" stroke-width="1" fill="#fff"><rect x="47.5" y="706.5" width="312" height="8"/><line x1="47.5" y1="710.5" x2="125.5" y2="710.5"/><line x1="203.5" y1="710.5" x2="281.5" y2="710.5"/><line x1="125.5" y1="706.5" x2="125.5" y2="714.5"/><line x1="203.5" y1="706.5" x2="203.5" y2="714.5"/><line x1="281.5" y1="706.5" x2="281.5" y2="714.5"/></g>
<text x="47" y="729" text-anchor="middle" font-family="Liberation Sans, DejaVu Sans, sans-serif" font-size="11" fill="#000">0</text>
<text x="125.5" y="729" text-anchor="middle" font-family="Liberation Sans, DejaVu Sans, sans-serif" font-size="11" fill="#000">500</text>
<text x="203.5" y="729" text-anchor="middle" font-family="Liberation Sans, DejaVu Sans, sans-serif" font-size="11" fill="#000">1000</text>
<text x="281.5" y="729" text-anchor="middle" font-family="Liberation Sans, DejaVu Sans, sans-serif" font-size="11" fill="#000">1500</text>
<text x="349" y="729" font-family="Liberation Sans, DejaVu Sans, sans-serif" font-size="11" fill="#000" textLength="42" lengthAdjust="spacing">2000 km</text>
<text x="691.5" y="731.5" font-family="Liberation Serif, DejaVu Serif, serif" font-size="59" fill="#000" stroke="#000" stroke-width="0.6" textLength="155" lengthAdjust="spacingAndGlyphs">Canada</text>
<rect x="826" y="693" width="5" height="11" fill="#e00000"/><rect x="842" y="693" width="5" height="11" fill="#e00000"/>
<path d="M836.5,694.5 l0.8,1.6 0.9,-0.5 -0.4,2.1 1.2,-1 0.3,0.8 1.4,-0.3 -0.4,1.4 0.7,0.4 -2.4,1.9 0.3,0.8 -2.1,-0.3 0,2.2 -0.6,0 0,-2.2 -2.1,0.3 0.3,-0.8 -2.4,-1.9 0.7,-0.4 -0.4,-1.4 1.4,0.3 0.3,-0.8 1.2,1 -0.4,-2.1 0.9,0.5z" fill="#e00000"/>
</svg></body></html>
